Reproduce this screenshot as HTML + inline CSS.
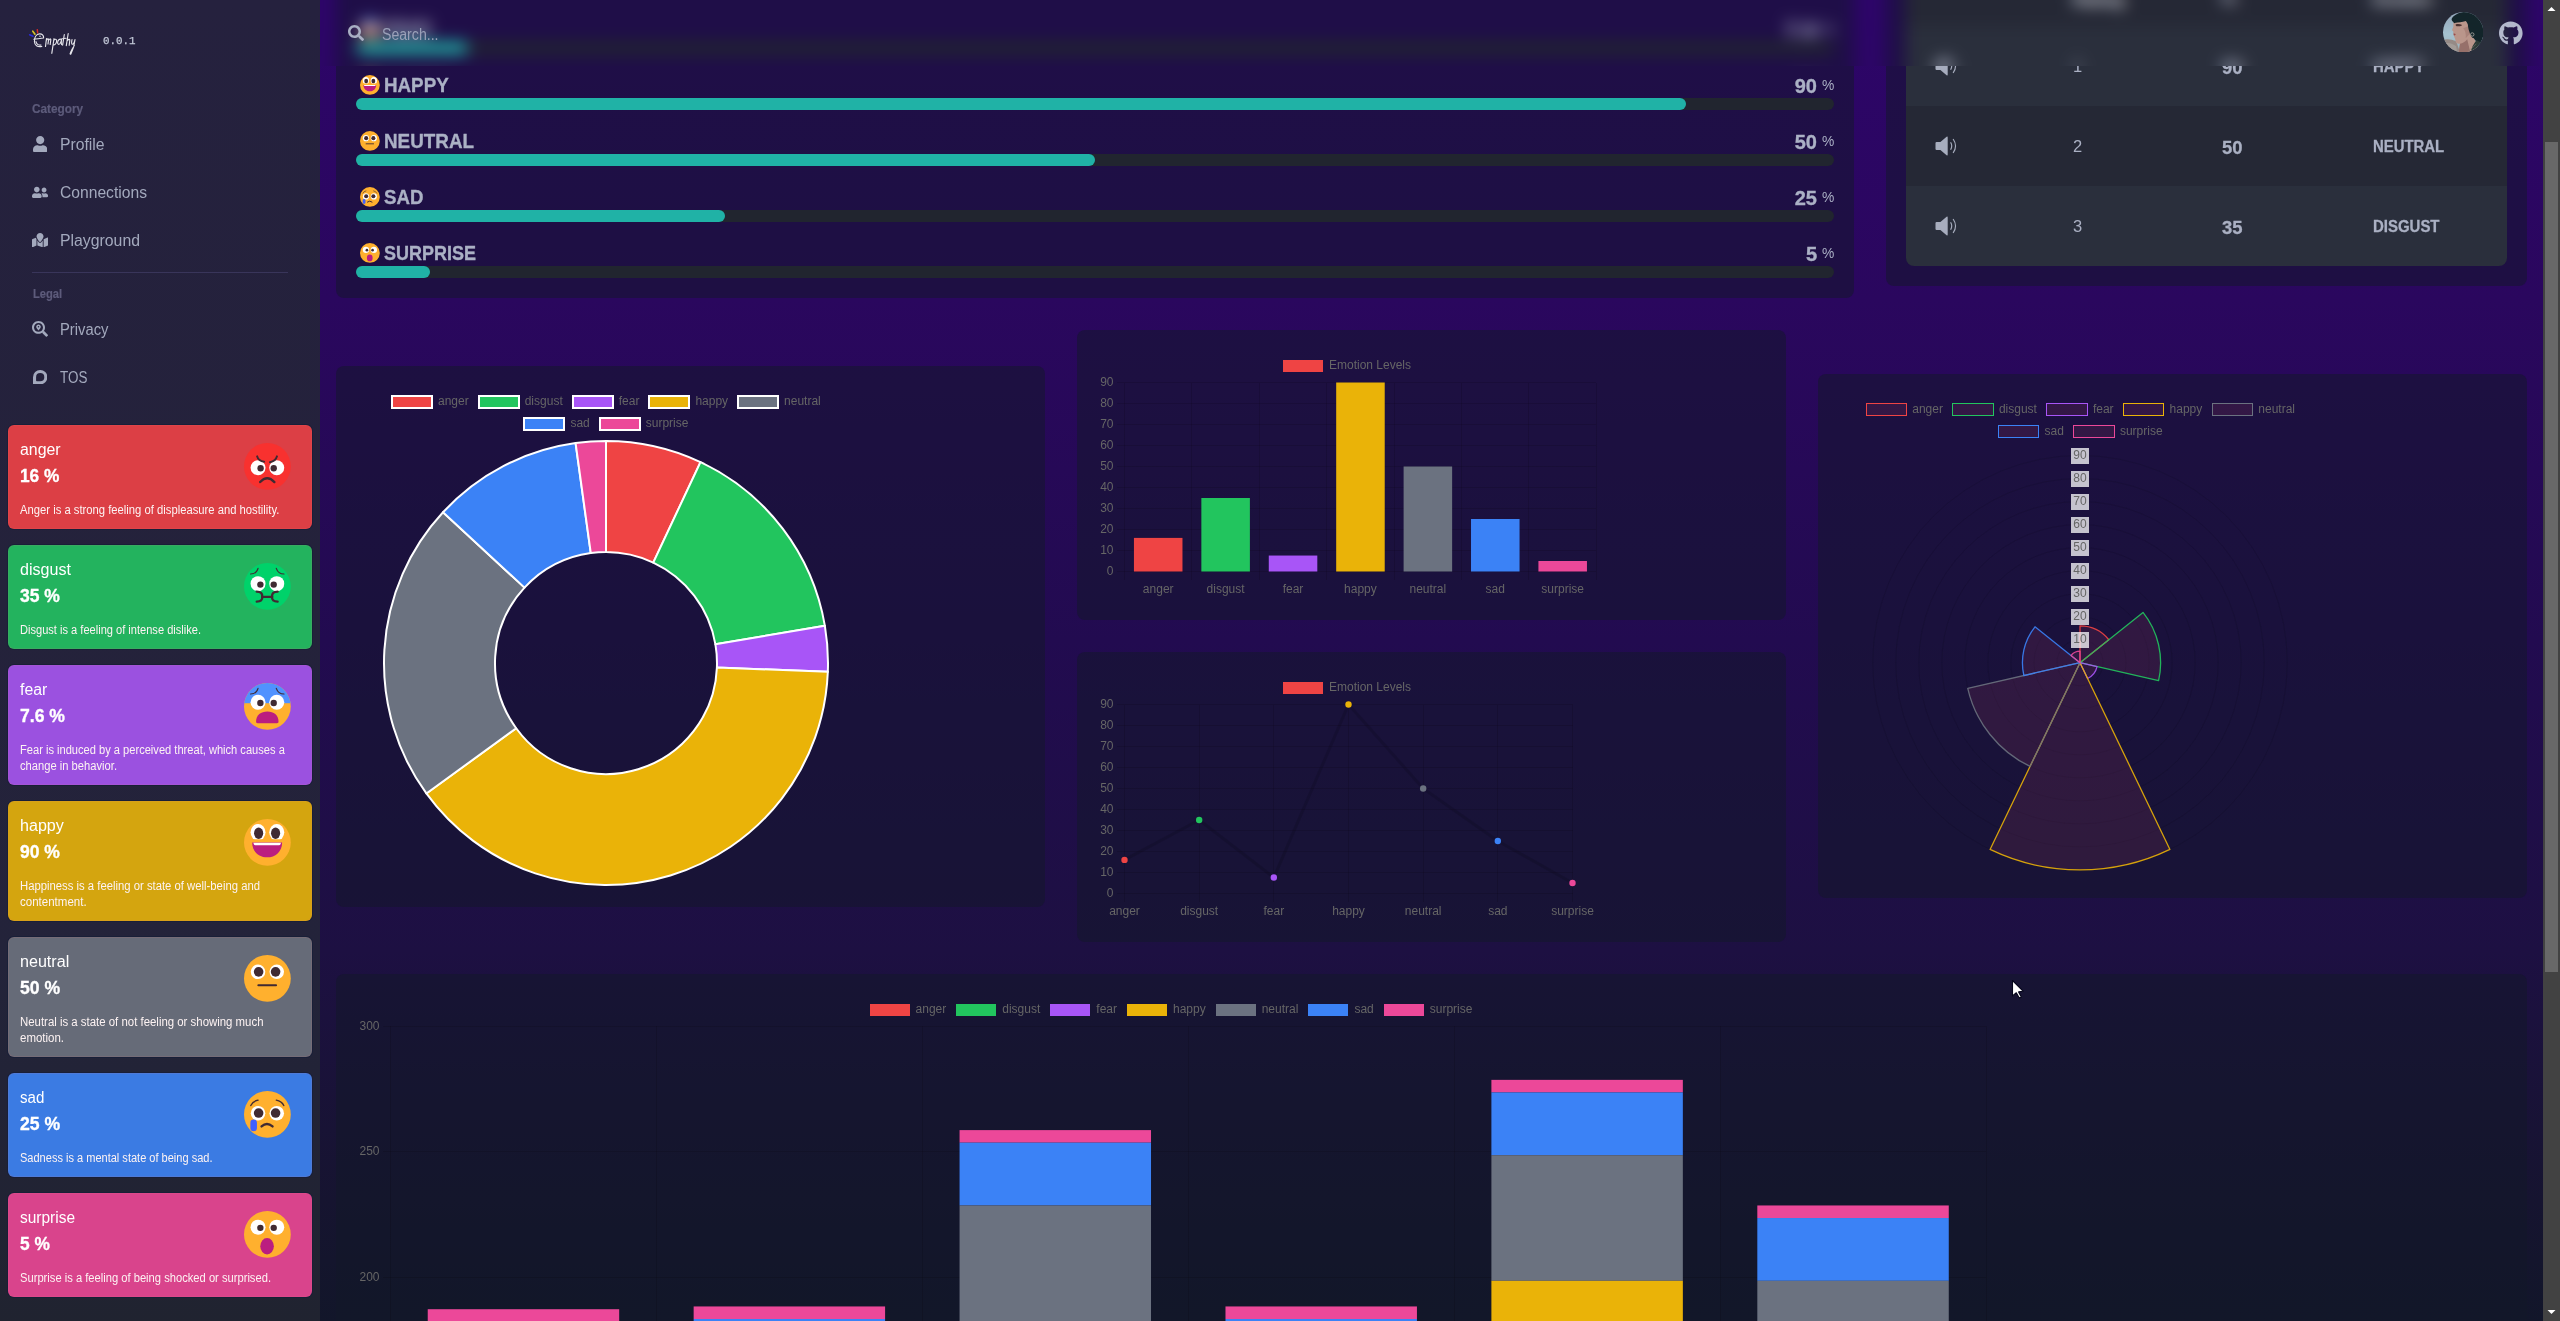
<!DOCTYPE html>
<html lang="en"><head><meta charset="utf-8"><title>Empathy</title>
<style>
html,body{margin:0;padding:0;background:#16152f;}
body{width:2560px;height:1321px;overflow:hidden;font-family:"Liberation Sans",sans-serif;}
#page{position:relative;width:2560px;height:1321px;overflow:hidden;
background:linear-gradient(180deg,#2d0569 0px,#2a075e 300px,#220b50 640px,#1d1042 950px,#161430 1200px,#12162a 1321px);}
#main{position:absolute;left:0;top:0;width:2560px;height:1321px;will-change:transform;}
#header{position:absolute;left:320px;top:0;width:2223px;height:66px;overflow:hidden;}
#hb{position:absolute;left:-400px;top:-80px;width:2800px;height:260px;filter:blur(8px);background:linear-gradient(180deg,#2d0569 0px,#2d0569 80px,#2b0662 260px);}
#hb2{position:absolute;left:80px;top:80px;width:2560px;height:180px;}
#hd{position:absolute;left:0;top:0;width:2560px;height:66px;will-change:transform;}
#sidebar{position:absolute;left:0;top:0;width:320px;height:1321px;background:linear-gradient(180deg,#25213e 0px,#24223b 600px,#23233a 960px,#202330 1321px);}
#sb{position:absolute;left:2543px;top:0;width:17px;height:1321px;background:#424242;}
#sb .th{position:absolute;left:2px;top:142px;width:13px;height:830px;background:#686868;}
</style></head>
<body>
<div id="page">
<div id="main">
<div style="position:absolute;left:336.0px;top:-300.0px;width:1517.5px;height:597.5px;border-radius:8px;background:rgba(17,24,39,0.5)"></div>
<svg style="position:absolute;left:358.80px;top:17.90px" width="21.80" height="21.80" viewBox="-1.1010 -1.1010 2.2020 2.2020"><defs><clipPath id="fc1"><circle r="1"/></clipPath></defs><circle r="1" fill="#ffb02e"/><rect x="-1" y="-1" width="2" height="0.864" fill="#5092ff" clip-path="url(#fc1)"/><circle cx="-0.400" cy="-0.175" r="0.320" fill="#fff"/><circle cx="0.400" cy="-0.175" r="0.320" fill="#fff"/><circle cx="-0.300" cy="-0.146" r="0.136" fill="#402a32"/><circle cx="0.270" cy="-0.146" r="0.136" fill="#402a32"/><path d="M-0.72 -0.53Q-0.47 -0.53 -0.40 -0.77" fill="none" stroke="#402a32" stroke-width="0.050" stroke-linecap="round" stroke-linejoin="round"/><path d="M0.71 -0.53Q0.46 -0.53 0.38 -0.77" fill="none" stroke="#402a32" stroke-width="0.050" stroke-linecap="round" stroke-linejoin="round"/><path d="M-0.485 0.66C-0.485 0.36 -0.28 0.214 0 0.214C0.27 0.214 0.476 0.36 0.476 0.66C0.476 0.70 0.45 0.718 0.41 0.718L-0.42 0.718C-0.46 0.718 -0.485 0.70 -0.485 0.66Z" fill="#bb1d80"/></svg>
<div style="position:absolute;left:384.30px;top:17.00px;font-size:19.50px;line-height:24px;color:#abb1c5;white-space:pre;font-family:'Liberation Sans',sans-serif;font-weight:700;-webkit-text-stroke:0.35px #abb1c5;transform:scaleX(0.8760);transform-origin:0 0;">FEAR</div>
<div style="position:absolute;left:1821.50px;top:19.00px;font-size:15.30px;line-height:19px;color:#abb1c5;white-space:pre;font-family:'Liberation Sans',sans-serif;transform:scaleX(0.9041);transform-origin:0 0;">%</div>
<div style="position:absolute;left:1785.00px;top:18.00px;font-size:20.00px;line-height:24px;color:#abb1c5;white-space:pre;font-family:'Liberation Sans',sans-serif;font-weight:700;-webkit-text-stroke:0.35px #abb1c5;transform:scaleX(1.1510);transform-origin:0 0;">7.6</div>
<div style="position:absolute;left:356px;top:42.0px;width:1477.8px;height:12px;border-radius:6px;background:#21252f"></div>
<div style="position:absolute;left:356px;top:42.0px;width:112.3px;height:12px;border-radius:6px;background:#20b2a6"></div>
<svg style="position:absolute;left:358.80px;top:73.90px" width="21.80" height="21.80" viewBox="-1.1010 -1.1010 2.2020 2.2020"><defs><clipPath id="hc2"><rect x="-1" y="-1" width="2" height="0.864"/></clipPath></defs><circle r="1" fill="#ffb02e"/><g clip-path="url(#hc2)"><ellipse cx="-0.40" cy="-0.43" rx="0.32" ry="0.36" fill="#fff"/><ellipse cx="0.40" cy="-0.43" rx="0.32" ry="0.36" fill="#fff"/><ellipse cx="-0.375" cy="-0.390" rx="0.195" ry="0.243" fill="#402a32"/><ellipse cx="0.350" cy="-0.390" rx="0.195" ry="0.243" fill="#402a32"/></g><path d="M-0.65 0.0L0.63 0.0C0.63 0.40 0.33 0.64 -0.01 0.64C-0.35 0.64 -0.65 0.40 -0.65 0.0Z" fill="#bb1d80"/><path d="M-0.60 0.01L0.58 0.01L0.555 0.09Q0.54 0.117 0.50 0.117L-0.52 0.117Q-0.56 0.117 -0.575 0.09Z" fill="#fff"/></svg>
<div style="position:absolute;left:384.30px;top:73.00px;font-size:19.50px;line-height:24px;color:#abb1c5;white-space:pre;font-family:'Liberation Sans',sans-serif;font-weight:700;-webkit-text-stroke:0.35px #abb1c5;transform:scaleX(0.9630);transform-origin:0 0;">HAPPY</div>
<div style="position:absolute;left:1821.50px;top:75.00px;font-size:15.30px;line-height:19px;color:#abb1c5;white-space:pre;font-family:'Liberation Sans',sans-serif;transform:scaleX(0.9041);transform-origin:0 0;">%</div>
<div style="position:absolute;left:1794.70px;top:74.00px;font-size:20.00px;line-height:24px;color:#abb1c5;white-space:pre;font-family:'Liberation Sans',sans-serif;font-weight:700;-webkit-text-stroke:0.35px #abb1c5;">90</div>
<div style="position:absolute;left:356px;top:98.0px;width:1477.8px;height:12px;border-radius:6px;background:#21252f"></div>
<div style="position:absolute;left:356px;top:98.0px;width:1330.0px;height:12px;border-radius:6px;background:#20b2a6"></div>
<svg style="position:absolute;left:358.80px;top:129.90px" width="21.80" height="21.80" viewBox="-1.1010 -1.1010 2.2020 2.2020"><circle r="1" fill="#ffb02e"/><circle cx="-0.400" cy="-0.280" r="0.310" fill="#fff"/><circle cx="0.400" cy="-0.280" r="0.310" fill="#fff"/><circle cx="-0.375" cy="-0.280" r="0.205" fill="#402a32"/><circle cx="0.350" cy="-0.280" r="0.205" fill="#402a32"/><path d="M-0.385 0.295L0.37 0.295" fill="none" stroke="#402a32" stroke-width="0.090" stroke-linecap="round" stroke-linejoin="round"/></svg>
<div style="position:absolute;left:384.30px;top:129.00px;font-size:19.50px;line-height:24px;color:#abb1c5;white-space:pre;font-family:'Liberation Sans',sans-serif;font-weight:700;-webkit-text-stroke:0.35px #abb1c5;transform:scaleX(0.9661);transform-origin:0 0;">NEUTRAL</div>
<div style="position:absolute;left:1821.50px;top:131.00px;font-size:15.30px;line-height:19px;color:#abb1c5;white-space:pre;font-family:'Liberation Sans',sans-serif;transform:scaleX(0.9041);transform-origin:0 0;">%</div>
<div style="position:absolute;left:1794.70px;top:130.00px;font-size:20.00px;line-height:24px;color:#abb1c5;white-space:pre;font-family:'Liberation Sans',sans-serif;font-weight:700;-webkit-text-stroke:0.35px #abb1c5;">50</div>
<div style="position:absolute;left:356px;top:154.0px;width:1477.8px;height:12px;border-radius:6px;background:#21252f"></div>
<div style="position:absolute;left:356px;top:154.0px;width:738.9px;height:12px;border-radius:6px;background:#20b2a6"></div>
<svg style="position:absolute;left:358.80px;top:185.90px" width="21.80" height="21.80" viewBox="-1.1010 -1.1010 2.2020 2.2020"><circle r="1" fill="#ffb02e"/><circle cx="-0.400" cy="-0.049" r="0.310" fill="#fff"/><circle cx="0.400" cy="-0.049" r="0.310" fill="#fff"/><circle cx="-0.375" cy="-0.058" r="0.205" fill="#402a32"/><circle cx="0.350" cy="-0.058" r="0.205" fill="#402a32"/><path d="M-0.71 -0.38Q-0.62 -0.57 -0.40 -0.61" fill="none" stroke="#402a32" stroke-width="0.060" stroke-linecap="round" stroke-linejoin="round"/><path d="M0.70 -0.38Q0.61 -0.57 0.38 -0.61" fill="none" stroke="#402a32" stroke-width="0.060" stroke-linecap="round" stroke-linejoin="round"/><rect x="-0.728" y="0.223" width="0.281" height="0.495" rx="0.14" fill="#3f5fff"/><path d="M-0.25 0.515Q-0.02 0.31 0.22 0.515" fill="none" stroke="#402a32" stroke-width="0.100" stroke-linecap="round" stroke-linejoin="round"/></svg>
<div style="position:absolute;left:384.30px;top:185.00px;font-size:19.50px;line-height:24px;color:#abb1c5;white-space:pre;font-family:'Liberation Sans',sans-serif;font-weight:700;-webkit-text-stroke:0.35px #abb1c5;transform:scaleX(0.9570);transform-origin:0 0;">SAD</div>
<div style="position:absolute;left:1821.50px;top:187.00px;font-size:15.30px;line-height:19px;color:#abb1c5;white-space:pre;font-family:'Liberation Sans',sans-serif;transform:scaleX(0.9041);transform-origin:0 0;">%</div>
<div style="position:absolute;left:1794.70px;top:186.00px;font-size:20.00px;line-height:24px;color:#abb1c5;white-space:pre;font-family:'Liberation Sans',sans-serif;font-weight:700;-webkit-text-stroke:0.35px #abb1c5;">25</div>
<div style="position:absolute;left:356px;top:210.0px;width:1477.8px;height:12px;border-radius:6px;background:#21252f"></div>
<div style="position:absolute;left:356px;top:210.0px;width:369.4px;height:12px;border-radius:6px;background:#20b2a6"></div>
<svg style="position:absolute;left:358.80px;top:241.90px" width="21.80" height="21.80" viewBox="-1.1010 -1.1010 2.2020 2.2020"><circle r="1" fill="#ffb02e"/><circle cx="-0.400" cy="-0.310" r="0.320" fill="#fff"/><circle cx="0.400" cy="-0.310" r="0.320" fill="#fff"/><circle cx="-0.300" cy="-0.280" r="0.136" fill="#402a32"/><circle cx="0.270" cy="-0.280" r="0.136" fill="#402a32"/><ellipse cx="-0.014" cy="0.505" rx="0.29" ry="0.35" fill="#bb1d80"/></svg>
<div style="position:absolute;left:384.30px;top:241.00px;font-size:19.50px;line-height:24px;color:#abb1c5;white-space:pre;font-family:'Liberation Sans',sans-serif;font-weight:700;-webkit-text-stroke:0.35px #abb1c5;transform:scaleX(0.9219);transform-origin:0 0;">SURPRISE</div>
<div style="position:absolute;left:1821.50px;top:243.00px;font-size:15.30px;line-height:19px;color:#abb1c5;white-space:pre;font-family:'Liberation Sans',sans-serif;transform:scaleX(0.9041);transform-origin:0 0;">%</div>
<div style="position:absolute;left:1805.80px;top:242.00px;font-size:20.00px;line-height:24px;color:#abb1c5;white-space:pre;font-family:'Liberation Sans',sans-serif;font-weight:700;-webkit-text-stroke:0.35px #abb1c5;transform:scaleX(1.0069);transform-origin:0 0;">5</div>
<div style="position:absolute;left:356px;top:266.0px;width:1477.8px;height:12px;border-radius:6px;background:#21252f"></div>
<div style="position:absolute;left:356px;top:266.0px;width:73.9px;height:12px;border-radius:6px;background:#20b2a6"></div>
<div style="position:absolute;left:1886.0px;top:-300.0px;width:641.0px;height:585.5px;border-radius:8px;background:rgba(17,24,39,0.5)"></div>
<div style="position:absolute;left:1906px;top:-54px;width:601px;height:320px;border-radius:8px;overflow:hidden;background:#2a2f3c"><div style="position:absolute;left:0;top:160px;width:601px;height:80px;background:#252835"></div><div style="position:absolute;left:0;top:0;width:601px;height:80px;background:#252835"></div></div>
<div style="position:absolute;left:2072.50px;top:-10.00px;font-size:16.00px;line-height:19px;color:#eceef5;white-space:pre;font-family:'Liberation Sans',sans-serif;font-weight:700;transform:scaleX(1.0246);transform-origin:0 0;">Rating</div>
<div style="position:absolute;left:2220.50px;top:-11.00px;font-size:16.00px;line-height:19px;color:#d5d9e6;white-space:pre;font-family:'Liberation Sans',sans-serif;font-weight:700;transform:scaleX(1.0544);transform-origin:0 0;">%</div>
<div style="position:absolute;left:2373.00px;top:-10.00px;font-size:16.00px;line-height:19px;color:#e4e7f0;white-space:pre;font-family:'Liberation Sans',sans-serif;font-weight:700;transform:scaleX(0.9220);transform-origin:0 0;">Emotion</div>
<svg style="position:absolute;left:1934.90px;top:55.00px;overflow:visible" width="24" height="22" viewBox="0 0 24 22"><path d="M1.6 6.9H5.4L11.6 1.8Q12.7 1.1 12.7 2.4V19.6Q12.7 20.9 11.6 20.2L5.4 15.1H1.6Q0.5 15.1 0.5 14V8Q0.5 6.9 1.6 6.9Z" fill="#a7adbe"/><path d="M15.6 7.3Q17.9 11 15.6 14.7" fill="none" stroke="#a7adbe" stroke-width="1.15" stroke-linecap="butt"/><path d="M18.1 4.0Q23.0 11 18.1 18.0" fill="none" stroke="#a7adbe" stroke-width="1.15" stroke-linecap="butt"/></svg>
<div style="position:absolute;left:2072.90px;top:56.00px;font-size:17.00px;line-height:21px;color:#aab0c3;white-space:pre;font-family:'Liberation Sans',sans-serif;transform:scaleX(0.9731);transform-origin:0 0;">1</div>
<div style="position:absolute;left:2222.45px;top:57.00px;font-size:18.00px;line-height:22px;color:#aab0c3;white-space:pre;font-family:'Liberation Sans',sans-serif;font-weight:700;-webkit-text-stroke:0.30px #aab0c3;transform:scaleX(1.0239);transform-origin:0 0;">90</div>
<div style="position:absolute;left:2373.30px;top:57.00px;font-size:16.00px;line-height:19px;color:#aab0c3;white-space:pre;font-family:'Liberation Sans',sans-serif;font-weight:700;-webkit-text-stroke:0.30px #aab0c3;transform:scaleX(0.9342);transform-origin:0 0;">HAPPY</div>
<svg style="position:absolute;left:1934.90px;top:135.00px;overflow:visible" width="24" height="22" viewBox="0 0 24 22"><path d="M1.6 6.9H5.4L11.6 1.8Q12.7 1.1 12.7 2.4V19.6Q12.7 20.9 11.6 20.2L5.4 15.1H1.6Q0.5 15.1 0.5 14V8Q0.5 6.9 1.6 6.9Z" fill="#a7adbe"/><path d="M15.6 7.3Q17.9 11 15.6 14.7" fill="none" stroke="#a7adbe" stroke-width="1.15" stroke-linecap="butt"/><path d="M18.1 4.0Q23.0 11 18.1 18.0" fill="none" stroke="#a7adbe" stroke-width="1.15" stroke-linecap="butt"/></svg>
<div style="position:absolute;left:2072.90px;top:136.00px;font-size:17.00px;line-height:21px;color:#aab0c3;white-space:pre;font-family:'Liberation Sans',sans-serif;transform:scaleX(0.9731);transform-origin:0 0;">2</div>
<div style="position:absolute;left:2222.45px;top:137.00px;font-size:18.00px;line-height:22px;color:#aab0c3;white-space:pre;font-family:'Liberation Sans',sans-serif;font-weight:700;-webkit-text-stroke:0.30px #aab0c3;transform:scaleX(1.0239);transform-origin:0 0;">50</div>
<div style="position:absolute;left:2373.30px;top:137.00px;font-size:16.00px;line-height:19px;color:#aab0c3;white-space:pre;font-family:'Liberation Sans',sans-serif;font-weight:700;-webkit-text-stroke:0.30px #aab0c3;transform:scaleX(0.9315);transform-origin:0 0;">NEUTRAL</div>
<svg style="position:absolute;left:1934.90px;top:215.00px;overflow:visible" width="24" height="22" viewBox="0 0 24 22"><path d="M1.6 6.9H5.4L11.6 1.8Q12.7 1.1 12.7 2.4V19.6Q12.7 20.9 11.6 20.2L5.4 15.1H1.6Q0.5 15.1 0.5 14V8Q0.5 6.9 1.6 6.9Z" fill="#a7adbe"/><path d="M15.6 7.3Q17.9 11 15.6 14.7" fill="none" stroke="#a7adbe" stroke-width="1.15" stroke-linecap="butt"/><path d="M18.1 4.0Q23.0 11 18.1 18.0" fill="none" stroke="#a7adbe" stroke-width="1.15" stroke-linecap="butt"/></svg>
<div style="position:absolute;left:2072.90px;top:216.00px;font-size:17.00px;line-height:21px;color:#aab0c3;white-space:pre;font-family:'Liberation Sans',sans-serif;transform:scaleX(0.9731);transform-origin:0 0;">3</div>
<div style="position:absolute;left:2222.45px;top:217.00px;font-size:18.00px;line-height:22px;color:#aab0c3;white-space:pre;font-family:'Liberation Sans',sans-serif;font-weight:700;-webkit-text-stroke:0.30px #aab0c3;transform:scaleX(1.0239);transform-origin:0 0;">35</div>
<div style="position:absolute;left:2373.30px;top:217.00px;font-size:16.00px;line-height:19px;color:#aab0c3;white-space:pre;font-family:'Liberation Sans',sans-serif;font-weight:700;-webkit-text-stroke:0.30px #aab0c3;transform:scaleX(0.9351);transform-origin:0 0;">DISGUST</div>
<div style="position:absolute;left:336.0px;top:366.0px;width:709.0px;height:541.0px;border-radius:8px;background:rgba(17,24,39,0.5)"></div>
<div style="position:absolute;left:391.01px;top:395.00px;width:42.00px;height:14.00px;background:#ef4444;border:2.00px solid #fff;box-sizing:border-box"></div>
<div style="position:absolute;left:438.01px;top:393.00px;font-size:12.00px;line-height:16px;color:#666666;white-space:pre;font-family:'Liberation Sans',sans-serif;">anger</div>
<div style="position:absolute;left:477.70px;top:395.00px;width:42.00px;height:14.00px;background:#22c55e;border:2.00px solid #fff;box-sizing:border-box"></div>
<div style="position:absolute;left:524.70px;top:393.00px;font-size:12.00px;line-height:16px;color:#666666;white-space:pre;font-family:'Liberation Sans',sans-serif;">disgust</div>
<div style="position:absolute;left:571.72px;top:395.00px;width:42.00px;height:14.00px;background:#a855f7;border:2.00px solid #fff;box-sizing:border-box"></div>
<div style="position:absolute;left:618.72px;top:393.00px;font-size:12.00px;line-height:16px;color:#666666;white-space:pre;font-family:'Liberation Sans',sans-serif;">fear</div>
<div style="position:absolute;left:648.40px;top:395.00px;width:42.00px;height:14.00px;background:#eab308;border:2.00px solid #fff;box-sizing:border-box"></div>
<div style="position:absolute;left:695.40px;top:393.00px;font-size:12.00px;line-height:16px;color:#666666;white-space:pre;font-family:'Liberation Sans',sans-serif;">happy</div>
<div style="position:absolute;left:737.10px;top:395.00px;width:42.00px;height:14.00px;background:#6b7280;border:2.00px solid #fff;box-sizing:border-box"></div>
<div style="position:absolute;left:784.10px;top:393.00px;font-size:12.00px;line-height:16px;color:#666666;white-space:pre;font-family:'Liberation Sans',sans-serif;">neutral</div>
<div style="position:absolute;left:523.39px;top:417.00px;width:42.00px;height:14.00px;background:#3b82f6;border:2.00px solid #fff;box-sizing:border-box"></div>
<div style="position:absolute;left:570.39px;top:415.00px;font-size:12.00px;line-height:16px;color:#666666;white-space:pre;font-family:'Liberation Sans',sans-serif;">sad</div>
<div style="position:absolute;left:598.73px;top:417.00px;width:42.00px;height:14.00px;background:#ec4899;border:2.00px solid #fff;box-sizing:border-box"></div>
<div style="position:absolute;left:645.73px;top:415.00px;font-size:12.00px;line-height:16px;color:#666666;white-space:pre;font-family:'Liberation Sans',sans-serif;">surprise</div>
<svg style="position:absolute;left:0;top:0" width="2560" height="1321"><path d="M606.00 441.00A222.00 222.00 0 0 1 700.51 462.12L653.26 562.56A111.00 111.00 0 0 0 606.00 552.00Z" fill="#ef4444" stroke="#fff" stroke-width="2" stroke-linejoin="round"/><path d="M700.51 462.12A222.00 222.00 0 0 1 824.84 625.65L715.42 644.33A111.00 111.00 0 0 0 653.26 562.56Z" fill="#22c55e" stroke="#fff" stroke-width="2" stroke-linejoin="round"/><path d="M824.84 625.65A222.00 222.00 0 0 1 827.82 671.85L716.91 667.42A111.00 111.00 0 0 0 715.42 644.33Z" fill="#a855f7" stroke="#fff" stroke-width="2" stroke-linejoin="round"/><path d="M827.82 671.85A222.00 222.00 0 0 1 426.36 793.44L516.18 728.22A111.00 111.00 0 0 0 716.91 667.42Z" fill="#eab308" stroke="#fff" stroke-width="2" stroke-linejoin="round"/><path d="M426.36 793.44A222.00 222.00 0 0 1 443.00 512.29L524.50 587.64A111.00 111.00 0 0 0 516.18 728.22Z" fill="#6b7280" stroke="#fff" stroke-width="2" stroke-linejoin="round"/><path d="M443.00 512.29A222.00 222.00 0 0 1 575.59 443.09L590.79 553.05A111.00 111.00 0 0 0 524.50 587.64Z" fill="#3b82f6" stroke="#fff" stroke-width="2" stroke-linejoin="round"/><path d="M575.59 443.09A222.00 222.00 0 0 1 606.00 441.00L606.00 552.00A111.00 111.00 0 0 0 590.79 553.05Z" fill="#ec4899" stroke="#fff" stroke-width="2" stroke-linejoin="round"/></svg>
<div style="position:absolute;left:1077.0px;top:330.0px;width:709.0px;height:290.0px;border-radius:8px;background:rgba(17,24,39,0.5)"></div>
<div style="position:absolute;left:1282.98px;top:360.00px;width:40px;height:12px;background:#ef4444"></div>
<div style="position:absolute;left:1328.98px;top:357.00px;font-size:12.00px;line-height:16px;color:#666666;white-space:pre;font-family:'Liberation Sans',sans-serif;">Emotion Levels</div>
<svg style="position:absolute;left:0;top:0" width="2560" height="1321"><g shape-rendering="crispEdges"><line x1="1124.50" y1="382.50" x2="1124.50" y2="579.50" stroke="rgba(0,0,0,0.11)" stroke-width="1"/><line x1="1191.91" y1="382.50" x2="1191.91" y2="579.50" stroke="rgba(0,0,0,0.11)" stroke-width="1"/><line x1="1259.33" y1="382.50" x2="1259.33" y2="579.50" stroke="rgba(0,0,0,0.11)" stroke-width="1"/><line x1="1326.74" y1="382.50" x2="1326.74" y2="579.50" stroke="rgba(0,0,0,0.11)" stroke-width="1"/><line x1="1394.16" y1="382.50" x2="1394.16" y2="579.50" stroke="rgba(0,0,0,0.11)" stroke-width="1"/><line x1="1461.57" y1="382.50" x2="1461.57" y2="579.50" stroke="rgba(0,0,0,0.11)" stroke-width="1"/><line x1="1528.99" y1="382.50" x2="1528.99" y2="579.50" stroke="rgba(0,0,0,0.11)" stroke-width="1"/><line x1="1596.40" y1="382.50" x2="1596.40" y2="579.50" stroke="rgba(0,0,0,0.11)" stroke-width="1"/><line x1="1116.50" y1="571.50" x2="1596.40" y2="571.50" stroke="rgba(0,0,0,0.11)" stroke-width="1"/><line x1="1116.50" y1="550.50" x2="1596.40" y2="550.50" stroke="rgba(0,0,0,0.11)" stroke-width="1"/><line x1="1116.50" y1="529.50" x2="1596.40" y2="529.50" stroke="rgba(0,0,0,0.11)" stroke-width="1"/><line x1="1116.50" y1="508.50" x2="1596.40" y2="508.50" stroke="rgba(0,0,0,0.11)" stroke-width="1"/><line x1="1116.50" y1="487.50" x2="1596.40" y2="487.50" stroke="rgba(0,0,0,0.11)" stroke-width="1"/><line x1="1116.50" y1="466.50" x2="1596.40" y2="466.50" stroke="rgba(0,0,0,0.11)" stroke-width="1"/><line x1="1116.50" y1="445.50" x2="1596.40" y2="445.50" stroke="rgba(0,0,0,0.11)" stroke-width="1"/><line x1="1116.50" y1="424.50" x2="1596.40" y2="424.50" stroke="rgba(0,0,0,0.11)" stroke-width="1"/><line x1="1116.50" y1="403.50" x2="1596.40" y2="403.50" stroke="rgba(0,0,0,0.11)" stroke-width="1"/><line x1="1116.50" y1="382.50" x2="1596.40" y2="382.50" stroke="rgba(0,0,0,0.11)" stroke-width="1"/></g><rect x="1133.94" y="537.90" width="48.54" height="33.60" fill="#ef4444"/><rect x="1201.35" y="498.00" width="48.54" height="73.50" fill="#22c55e"/><rect x="1268.77" y="555.54" width="48.54" height="15.96" fill="#a855f7"/><rect x="1336.18" y="382.50" width="48.54" height="189.00" fill="#eab308"/><rect x="1403.60" y="466.50" width="48.54" height="105.00" fill="#6b7280"/><rect x="1471.01" y="519.00" width="48.54" height="52.50" fill="#3b82f6"/><rect x="1538.42" y="561.00" width="48.54" height="10.50" fill="#ec4899"/></svg><div style="position:absolute;left:1106.83px;top:563.00px;font-size:12.00px;line-height:16px;color:#666666;white-space:pre;font-family:'Liberation Sans',sans-serif;">0</div>
<div style="position:absolute;left:1100.15px;top:542.00px;font-size:12.00px;line-height:16px;color:#666666;white-space:pre;font-family:'Liberation Sans',sans-serif;">10</div>
<div style="position:absolute;left:1100.15px;top:521.00px;font-size:12.00px;line-height:16px;color:#666666;white-space:pre;font-family:'Liberation Sans',sans-serif;">20</div>
<div style="position:absolute;left:1100.15px;top:500.00px;font-size:12.00px;line-height:16px;color:#666666;white-space:pre;font-family:'Liberation Sans',sans-serif;">30</div>
<div style="position:absolute;left:1100.15px;top:479.00px;font-size:12.00px;line-height:16px;color:#666666;white-space:pre;font-family:'Liberation Sans',sans-serif;">40</div>
<div style="position:absolute;left:1100.15px;top:458.00px;font-size:12.00px;line-height:16px;color:#666666;white-space:pre;font-family:'Liberation Sans',sans-serif;">50</div>
<div style="position:absolute;left:1100.15px;top:437.00px;font-size:12.00px;line-height:16px;color:#666666;white-space:pre;font-family:'Liberation Sans',sans-serif;">60</div>
<div style="position:absolute;left:1100.15px;top:416.00px;font-size:12.00px;line-height:16px;color:#666666;white-space:pre;font-family:'Liberation Sans',sans-serif;">70</div>
<div style="position:absolute;left:1100.15px;top:395.00px;font-size:12.00px;line-height:16px;color:#666666;white-space:pre;font-family:'Liberation Sans',sans-serif;">80</div>
<div style="position:absolute;left:1100.15px;top:374.00px;font-size:12.00px;line-height:16px;color:#666666;white-space:pre;font-family:'Liberation Sans',sans-serif;">90</div>
<div style="position:absolute;left:1142.86px;top:581.00px;font-size:12.00px;line-height:16px;color:#666666;white-space:pre;font-family:'Liberation Sans',sans-serif;">anger</div>
<div style="position:absolute;left:1206.61px;top:581.00px;font-size:12.00px;line-height:16px;color:#666666;white-space:pre;font-family:'Liberation Sans',sans-serif;">disgust</div>
<div style="position:absolute;left:1282.70px;top:581.00px;font-size:12.00px;line-height:16px;color:#666666;white-space:pre;font-family:'Liberation Sans',sans-serif;">fear</div>
<div style="position:absolute;left:1344.10px;top:581.00px;font-size:12.00px;line-height:16px;color:#666666;white-space:pre;font-family:'Liberation Sans',sans-serif;">happy</div>
<div style="position:absolute;left:1409.52px;top:581.00px;font-size:12.00px;line-height:16px;color:#666666;white-space:pre;font-family:'Liberation Sans',sans-serif;">neutral</div>
<div style="position:absolute;left:1485.60px;top:581.00px;font-size:12.00px;line-height:16px;color:#666666;white-space:pre;font-family:'Liberation Sans',sans-serif;">sad</div>
<div style="position:absolute;left:1541.35px;top:581.00px;font-size:12.00px;line-height:16px;color:#666666;white-space:pre;font-family:'Liberation Sans',sans-serif;">surprise</div>
<div style="position:absolute;left:1077.0px;top:652.0px;width:709.0px;height:289.5px;border-radius:8px;background:rgba(17,24,39,0.5)"></div>
<div style="position:absolute;left:1282.98px;top:682.00px;width:40px;height:12px;background:#ef4444"></div>
<div style="position:absolute;left:1328.98px;top:679.00px;font-size:12.00px;line-height:16px;color:#666666;white-space:pre;font-family:'Liberation Sans',sans-serif;">Emotion Levels</div>
<svg style="position:absolute;left:0;top:0" width="2560" height="1321"><g shape-rendering="crispEdges"><line x1="1124.50" y1="704.50" x2="1124.50" y2="901.50" stroke="rgba(0,0,0,0.11)" stroke-width="1"/><line x1="1199.17" y1="704.50" x2="1199.17" y2="901.50" stroke="rgba(0,0,0,0.11)" stroke-width="1"/><line x1="1273.83" y1="704.50" x2="1273.83" y2="901.50" stroke="rgba(0,0,0,0.11)" stroke-width="1"/><line x1="1348.50" y1="704.50" x2="1348.50" y2="901.50" stroke="rgba(0,0,0,0.11)" stroke-width="1"/><line x1="1423.17" y1="704.50" x2="1423.17" y2="901.50" stroke="rgba(0,0,0,0.11)" stroke-width="1"/><line x1="1497.83" y1="704.50" x2="1497.83" y2="901.50" stroke="rgba(0,0,0,0.11)" stroke-width="1"/><line x1="1572.50" y1="704.50" x2="1572.50" y2="901.50" stroke="rgba(0,0,0,0.11)" stroke-width="1"/><line x1="1116.50" y1="893.50" x2="1572.50" y2="893.50" stroke="rgba(0,0,0,0.11)" stroke-width="1"/><line x1="1116.50" y1="872.50" x2="1572.50" y2="872.50" stroke="rgba(0,0,0,0.11)" stroke-width="1"/><line x1="1116.50" y1="851.50" x2="1572.50" y2="851.50" stroke="rgba(0,0,0,0.11)" stroke-width="1"/><line x1="1116.50" y1="830.50" x2="1572.50" y2="830.50" stroke="rgba(0,0,0,0.11)" stroke-width="1"/><line x1="1116.50" y1="809.50" x2="1572.50" y2="809.50" stroke="rgba(0,0,0,0.11)" stroke-width="1"/><line x1="1116.50" y1="788.50" x2="1572.50" y2="788.50" stroke="rgba(0,0,0,0.11)" stroke-width="1"/><line x1="1116.50" y1="767.50" x2="1572.50" y2="767.50" stroke="rgba(0,0,0,0.11)" stroke-width="1"/><line x1="1116.50" y1="746.50" x2="1572.50" y2="746.50" stroke="rgba(0,0,0,0.11)" stroke-width="1"/><line x1="1116.50" y1="725.50" x2="1572.50" y2="725.50" stroke="rgba(0,0,0,0.11)" stroke-width="1"/><line x1="1116.50" y1="704.50" x2="1572.50" y2="704.50" stroke="rgba(0,0,0,0.11)" stroke-width="1"/></g><polyline points="1124.50,859.90 1199.17,820.00 1273.83,877.54 1348.50,704.50 1423.17,788.50 1497.83,841.00 1572.50,883.00" fill="none" stroke="rgba(0,0,0,0.12)" stroke-width="3" stroke-linejoin="round"/><circle cx="1124.50" cy="859.90" r="3.2" fill="#ef4444"/><circle cx="1199.17" cy="820.00" r="3.2" fill="#22c55e"/><circle cx="1273.83" cy="877.54" r="3.2" fill="#a855f7"/><circle cx="1348.50" cy="704.50" r="3.2" fill="#eab308"/><circle cx="1423.17" cy="788.50" r="3.2" fill="#6b7280"/><circle cx="1497.83" cy="841.00" r="3.2" fill="#3b82f6"/><circle cx="1572.50" cy="883.00" r="3.2" fill="#ec4899"/></svg><div style="position:absolute;left:1106.83px;top:885.00px;font-size:12.00px;line-height:16px;color:#666666;white-space:pre;font-family:'Liberation Sans',sans-serif;">0</div>
<div style="position:absolute;left:1100.15px;top:864.00px;font-size:12.00px;line-height:16px;color:#666666;white-space:pre;font-family:'Liberation Sans',sans-serif;">10</div>
<div style="position:absolute;left:1100.15px;top:843.00px;font-size:12.00px;line-height:16px;color:#666666;white-space:pre;font-family:'Liberation Sans',sans-serif;">20</div>
<div style="position:absolute;left:1100.15px;top:822.00px;font-size:12.00px;line-height:16px;color:#666666;white-space:pre;font-family:'Liberation Sans',sans-serif;">30</div>
<div style="position:absolute;left:1100.15px;top:801.00px;font-size:12.00px;line-height:16px;color:#666666;white-space:pre;font-family:'Liberation Sans',sans-serif;">40</div>
<div style="position:absolute;left:1100.15px;top:780.00px;font-size:12.00px;line-height:16px;color:#666666;white-space:pre;font-family:'Liberation Sans',sans-serif;">50</div>
<div style="position:absolute;left:1100.15px;top:759.00px;font-size:12.00px;line-height:16px;color:#666666;white-space:pre;font-family:'Liberation Sans',sans-serif;">60</div>
<div style="position:absolute;left:1100.15px;top:738.00px;font-size:12.00px;line-height:16px;color:#666666;white-space:pre;font-family:'Liberation Sans',sans-serif;">70</div>
<div style="position:absolute;left:1100.15px;top:717.00px;font-size:12.00px;line-height:16px;color:#666666;white-space:pre;font-family:'Liberation Sans',sans-serif;">80</div>
<div style="position:absolute;left:1100.15px;top:696.00px;font-size:12.00px;line-height:16px;color:#666666;white-space:pre;font-family:'Liberation Sans',sans-serif;">90</div>
<div style="position:absolute;left:1109.15px;top:903.00px;font-size:12.00px;line-height:16px;color:#666666;white-space:pre;font-family:'Liberation Sans',sans-serif;">anger</div>
<div style="position:absolute;left:1180.16px;top:903.00px;font-size:12.00px;line-height:16px;color:#666666;white-space:pre;font-family:'Liberation Sans',sans-serif;">disgust</div>
<div style="position:absolute;left:1263.49px;top:903.00px;font-size:12.00px;line-height:16px;color:#666666;white-space:pre;font-family:'Liberation Sans',sans-serif;">fear</div>
<div style="position:absolute;left:1332.15px;top:903.00px;font-size:12.00px;line-height:16px;color:#666666;white-space:pre;font-family:'Liberation Sans',sans-serif;">happy</div>
<div style="position:absolute;left:1404.82px;top:903.00px;font-size:12.00px;line-height:16px;color:#666666;white-space:pre;font-family:'Liberation Sans',sans-serif;">neutral</div>
<div style="position:absolute;left:1488.16px;top:903.00px;font-size:12.00px;line-height:16px;color:#666666;white-space:pre;font-family:'Liberation Sans',sans-serif;">sad</div>
<div style="position:absolute;left:1551.16px;top:903.00px;font-size:12.00px;line-height:16px;color:#666666;white-space:pre;font-family:'Liberation Sans',sans-serif;">surprise</div>
<div style="position:absolute;left:1818.0px;top:373.5px;width:709.0px;height:524.5px;border-radius:8px;background:rgba(17,24,39,0.5)"></div>
<div style="position:absolute;left:1865.51px;top:403.00px;width:41.40px;height:13.40px;background:rgba(255,99,132,0.10);border:1.40px solid #ef4444;box-sizing:border-box"></div>
<div style="position:absolute;left:1912.21px;top:401.00px;font-size:12.00px;line-height:16px;color:#666666;white-space:pre;font-family:'Liberation Sans',sans-serif;">anger</div>
<div style="position:absolute;left:1952.20px;top:403.00px;width:41.40px;height:13.40px;background:rgba(255,99,132,0.10);border:1.40px solid #22c55e;box-sizing:border-box"></div>
<div style="position:absolute;left:1998.90px;top:401.00px;font-size:12.00px;line-height:16px;color:#666666;white-space:pre;font-family:'Liberation Sans',sans-serif;">disgust</div>
<div style="position:absolute;left:2046.22px;top:403.00px;width:41.40px;height:13.40px;background:rgba(255,99,132,0.10);border:1.40px solid #a855f7;box-sizing:border-box"></div>
<div style="position:absolute;left:2092.92px;top:401.00px;font-size:12.00px;line-height:16px;color:#666666;white-space:pre;font-family:'Liberation Sans',sans-serif;">fear</div>
<div style="position:absolute;left:2122.90px;top:403.00px;width:41.40px;height:13.40px;background:rgba(255,99,132,0.10);border:1.40px solid #eab308;box-sizing:border-box"></div>
<div style="position:absolute;left:2169.60px;top:401.00px;font-size:12.00px;line-height:16px;color:#666666;white-space:pre;font-family:'Liberation Sans',sans-serif;">happy</div>
<div style="position:absolute;left:2211.60px;top:403.00px;width:41.40px;height:13.40px;background:rgba(255,99,132,0.10);border:1.40px solid #6b7280;box-sizing:border-box"></div>
<div style="position:absolute;left:2258.30px;top:401.00px;font-size:12.00px;line-height:16px;color:#666666;white-space:pre;font-family:'Liberation Sans',sans-serif;">neutral</div>
<div style="position:absolute;left:1997.89px;top:425.00px;width:41.40px;height:13.40px;background:rgba(255,99,132,0.10);border:1.40px solid #3b82f6;box-sizing:border-box"></div>
<div style="position:absolute;left:2044.59px;top:423.00px;font-size:12.00px;line-height:16px;color:#666666;white-space:pre;font-family:'Liberation Sans',sans-serif;">sad</div>
<div style="position:absolute;left:2073.23px;top:425.00px;width:41.40px;height:13.40px;background:rgba(255,99,132,0.10);border:1.40px solid #ec4899;box-sizing:border-box"></div>
<div style="position:absolute;left:2119.93px;top:423.00px;font-size:12.00px;line-height:16px;color:#666666;white-space:pre;font-family:'Liberation Sans',sans-serif;">surprise</div>
<svg style="position:absolute;left:0;top:0" width="2560" height="1321"><circle cx="2080.00" cy="662.70" r="23.03" fill="none" stroke="rgba(0,0,0,0.10)" stroke-width="1"/><circle cx="2080.00" cy="662.70" r="46.06" fill="none" stroke="rgba(0,0,0,0.10)" stroke-width="1"/><circle cx="2080.00" cy="662.70" r="69.09" fill="none" stroke="rgba(0,0,0,0.10)" stroke-width="1"/><circle cx="2080.00" cy="662.70" r="92.12" fill="none" stroke="rgba(0,0,0,0.10)" stroke-width="1"/><circle cx="2080.00" cy="662.70" r="115.15" fill="none" stroke="rgba(0,0,0,0.10)" stroke-width="1"/><circle cx="2080.00" cy="662.70" r="138.18" fill="none" stroke="rgba(0,0,0,0.10)" stroke-width="1"/><circle cx="2080.00" cy="662.70" r="161.21" fill="none" stroke="rgba(0,0,0,0.10)" stroke-width="1"/><circle cx="2080.00" cy="662.70" r="184.24" fill="none" stroke="rgba(0,0,0,0.10)" stroke-width="1"/><circle cx="2080.00" cy="662.70" r="207.27" fill="none" stroke="rgba(0,0,0,0.10)" stroke-width="1"/><path d="M2080.00 662.70L2080.00 625.85A36.85 36.85 0 0 1 2108.81 639.73Z" fill="rgba(255,99,132,0.10)" stroke="#ef4444" stroke-width="1.3" stroke-opacity="0.9" stroke-linejoin="round"/><path d="M2080.00 662.70L2143.02 612.44A80.61 80.61 0 0 1 2158.58 680.64Z" fill="rgba(255,99,132,0.10)" stroke="#22c55e" stroke-width="1.3" stroke-opacity="0.9" stroke-linejoin="round"/><path d="M2080.00 662.70L2097.06 666.59A17.50 17.50 0 0 1 2087.59 678.47Z" fill="rgba(255,99,132,0.10)" stroke="#a855f7" stroke-width="1.3" stroke-opacity="0.9" stroke-linejoin="round"/><path d="M2080.00 662.70L2169.93 849.44A207.27 207.27 0 0 1 1990.07 849.44Z" fill="rgba(255,99,132,0.10)" stroke="#eab308" stroke-width="1.3" stroke-opacity="0.9" stroke-linejoin="round"/><path d="M2080.00 662.70L2030.04 766.45A115.15 115.15 0 0 1 1967.74 688.32Z" fill="rgba(255,99,132,0.10)" stroke="#6b7280" stroke-width="1.3" stroke-opacity="0.9" stroke-linejoin="round"/><path d="M2080.00 662.70L2023.87 675.51A57.57 57.57 0 0 1 2034.99 626.80Z" fill="rgba(255,99,132,0.10)" stroke="#3b82f6" stroke-width="1.3" stroke-opacity="0.9" stroke-linejoin="round"/><path d="M2080.00 662.70L2071.00 655.52A11.52 11.52 0 0 1 2080.00 651.19Z" fill="rgba(255,99,132,0.10)" stroke="#ec4899" stroke-width="1.3" stroke-opacity="0.9" stroke-linejoin="round"/></svg><div style="position:absolute;left:2071.20px;top:632.27px;width:17.6px;height:15.6px;background:rgba(255,255,255,0.75)"></div>
<div style="position:absolute;left:2073.33px;top:631.00px;font-size:12.00px;line-height:16px;color:#666666;white-space:pre;font-family:'Liberation Sans',sans-serif;">10</div>
<div style="position:absolute;left:2071.20px;top:609.24px;width:17.6px;height:15.6px;background:rgba(255,255,255,0.75)"></div>
<div style="position:absolute;left:2073.33px;top:608.00px;font-size:12.00px;line-height:16px;color:#666666;white-space:pre;font-family:'Liberation Sans',sans-serif;">20</div>
<div style="position:absolute;left:2071.20px;top:586.21px;width:17.6px;height:15.6px;background:rgba(255,255,255,0.75)"></div>
<div style="position:absolute;left:2073.33px;top:585.00px;font-size:12.00px;line-height:16px;color:#666666;white-space:pre;font-family:'Liberation Sans',sans-serif;">30</div>
<div style="position:absolute;left:2071.20px;top:563.18px;width:17.6px;height:15.6px;background:rgba(255,255,255,0.75)"></div>
<div style="position:absolute;left:2073.33px;top:562.00px;font-size:12.00px;line-height:16px;color:#666666;white-space:pre;font-family:'Liberation Sans',sans-serif;">40</div>
<div style="position:absolute;left:2071.20px;top:540.15px;width:17.6px;height:15.6px;background:rgba(255,255,255,0.75)"></div>
<div style="position:absolute;left:2073.33px;top:539.00px;font-size:12.00px;line-height:16px;color:#666666;white-space:pre;font-family:'Liberation Sans',sans-serif;">50</div>
<div style="position:absolute;left:2071.20px;top:517.12px;width:17.6px;height:15.6px;background:rgba(255,255,255,0.75)"></div>
<div style="position:absolute;left:2073.33px;top:516.00px;font-size:12.00px;line-height:16px;color:#666666;white-space:pre;font-family:'Liberation Sans',sans-serif;">60</div>
<div style="position:absolute;left:2071.20px;top:494.09px;width:17.6px;height:15.6px;background:rgba(255,255,255,0.75)"></div>
<div style="position:absolute;left:2073.33px;top:493.00px;font-size:12.00px;line-height:16px;color:#666666;white-space:pre;font-family:'Liberation Sans',sans-serif;">70</div>
<div style="position:absolute;left:2071.20px;top:471.06px;width:17.6px;height:15.6px;background:rgba(255,255,255,0.75)"></div>
<div style="position:absolute;left:2073.33px;top:470.00px;font-size:12.00px;line-height:16px;color:#666666;white-space:pre;font-family:'Liberation Sans',sans-serif;">80</div>
<div style="position:absolute;left:2071.20px;top:448.03px;width:17.6px;height:15.6px;background:rgba(255,255,255,0.75)"></div>
<div style="position:absolute;left:2073.33px;top:447.00px;font-size:12.00px;line-height:16px;color:#666666;white-space:pre;font-family:'Liberation Sans',sans-serif;">90</div>
<div style="position:absolute;left:336.0px;top:974.0px;width:2191.0px;height:526.0px;border-radius:8px;background:rgba(17,24,39,0.5)"></div>
<div style="position:absolute;left:869.60px;top:1004.00px;width:40px;height:12px;background:#ef4444"></div>
<div style="position:absolute;left:915.60px;top:1001.00px;font-size:12.00px;line-height:16px;color:#666666;white-space:pre;font-family:'Liberation Sans',sans-serif;">anger</div>
<div style="position:absolute;left:956.29px;top:1004.00px;width:40px;height:12px;background:#22c55e"></div>
<div style="position:absolute;left:1002.29px;top:1001.00px;font-size:12.00px;line-height:16px;color:#666666;white-space:pre;font-family:'Liberation Sans',sans-serif;">disgust</div>
<div style="position:absolute;left:1050.31px;top:1004.00px;width:40px;height:12px;background:#a855f7"></div>
<div style="position:absolute;left:1096.31px;top:1001.00px;font-size:12.00px;line-height:16px;color:#666666;white-space:pre;font-family:'Liberation Sans',sans-serif;">fear</div>
<div style="position:absolute;left:1126.99px;top:1004.00px;width:40px;height:12px;background:#eab308"></div>
<div style="position:absolute;left:1172.99px;top:1001.00px;font-size:12.00px;line-height:16px;color:#666666;white-space:pre;font-family:'Liberation Sans',sans-serif;">happy</div>
<div style="position:absolute;left:1215.68px;top:1004.00px;width:40px;height:12px;background:#6b7280"></div>
<div style="position:absolute;left:1261.68px;top:1001.00px;font-size:12.00px;line-height:16px;color:#666666;white-space:pre;font-family:'Liberation Sans',sans-serif;">neutral</div>
<div style="position:absolute;left:1308.38px;top:1004.00px;width:40px;height:12px;background:#3b82f6"></div>
<div style="position:absolute;left:1354.38px;top:1001.00px;font-size:12.00px;line-height:16px;color:#666666;white-space:pre;font-family:'Liberation Sans',sans-serif;">sad</div>
<div style="position:absolute;left:1383.72px;top:1004.00px;width:40px;height:12px;background:#ec4899"></div>
<div style="position:absolute;left:1429.72px;top:1001.00px;font-size:12.00px;line-height:16px;color:#666666;white-space:pre;font-family:'Liberation Sans',sans-serif;">surprise</div>
<svg style="position:absolute;left:0;top:0" width="2560" height="1321"><g shape-rendering="crispEdges"><line x1="390.50" y1="1026.10" x2="390.50" y2="1321" stroke="rgba(0,0,0,0.11)" stroke-width="1"/><line x1="656.42" y1="1026.10" x2="656.42" y2="1321" stroke="rgba(0,0,0,0.11)" stroke-width="1"/><line x1="922.33" y1="1026.10" x2="922.33" y2="1321" stroke="rgba(0,0,0,0.11)" stroke-width="1"/><line x1="1188.25" y1="1026.10" x2="1188.25" y2="1321" stroke="rgba(0,0,0,0.11)" stroke-width="1"/><line x1="1454.17" y1="1026.10" x2="1454.17" y2="1321" stroke="rgba(0,0,0,0.11)" stroke-width="1"/><line x1="1720.08" y1="1026.10" x2="1720.08" y2="1321" stroke="rgba(0,0,0,0.11)" stroke-width="1"/><line x1="1986.00" y1="1026.10" x2="1986.00" y2="1321" stroke="rgba(0,0,0,0.11)" stroke-width="1"/><line x1="382.50" y1="1026.10" x2="1986.00" y2="1026.10" stroke="rgba(0,0,0,0.11)" stroke-width="1"/><line x1="382.50" y1="1151.70" x2="1986.00" y2="1151.70" stroke="rgba(0,0,0,0.11)" stroke-width="1"/><line x1="382.50" y1="1277.30" x2="1986.00" y2="1277.30" stroke="rgba(0,0,0,0.11)" stroke-width="1"/></g><rect x="427.73" y="1309.20" width="191.46" height="12.56" fill="#ec4899"/><rect x="427.73" y="1321.76" width="191.46" height="62.80" fill="#3b82f6"/><rect x="693.64" y="1306.44" width="191.46" height="12.56" fill="#ec4899"/><rect x="693.64" y="1319.00" width="191.46" height="62.80" fill="#3b82f6"/><rect x="959.56" y="1130.10" width="191.46" height="12.56" fill="#ec4899"/><rect x="959.56" y="1142.66" width="191.46" height="62.80" fill="#3b82f6"/><rect x="959.56" y="1205.46" width="191.46" height="200.96" fill="#6b7280"/><rect x="1225.48" y="1306.44" width="191.46" height="12.56" fill="#ec4899"/><rect x="1225.48" y="1319.00" width="191.46" height="62.80" fill="#3b82f6"/><rect x="1491.39" y="1079.86" width="191.46" height="12.56" fill="#ec4899"/><rect x="1491.39" y="1092.42" width="191.46" height="62.80" fill="#3b82f6"/><rect x="1491.39" y="1155.22" width="191.46" height="125.60" fill="#6b7280"/><rect x="1491.39" y="1280.82" width="191.46" height="226.08" fill="#eab308"/><rect x="1757.31" y="1205.46" width="191.46" height="12.56" fill="#ec4899"/><rect x="1757.31" y="1218.02" width="191.46" height="62.80" fill="#3b82f6"/><rect x="1757.31" y="1280.82" width="191.46" height="125.60" fill="#6b7280"/><rect x="1757.31" y="1406.42" width="191.46" height="226.08" fill="#eab308"/></svg><div style="position:absolute;left:359.48px;top:1018.00px;font-size:12.00px;line-height:16px;color:#666666;white-space:pre;font-family:'Liberation Sans',sans-serif;">300</div>
<div style="position:absolute;left:359.48px;top:1143.00px;font-size:12.00px;line-height:16px;color:#666666;white-space:pre;font-family:'Liberation Sans',sans-serif;">250</div>
<div style="position:absolute;left:359.48px;top:1269.00px;font-size:12.00px;line-height:16px;color:#666666;white-space:pre;font-family:'Liberation Sans',sans-serif;">200</div>
</div>
<div id="header"><div id="hb"><div id="hb2">
<div style="position:absolute;left:336.0px;top:-300.0px;width:1517.5px;height:597.5px;border-radius:8px;background:rgba(17,24,39,0.5)"></div>
<svg style="position:absolute;left:358.80px;top:17.90px" width="21.80" height="21.80" viewBox="-1.1010 -1.1010 2.2020 2.2020"><defs><clipPath id="fc6"><circle r="1"/></clipPath></defs><circle r="1" fill="#ffb02e"/><rect x="-1" y="-1" width="2" height="0.864" fill="#5092ff" clip-path="url(#fc6)"/><circle cx="-0.400" cy="-0.175" r="0.320" fill="#fff"/><circle cx="0.400" cy="-0.175" r="0.320" fill="#fff"/><circle cx="-0.300" cy="-0.146" r="0.136" fill="#402a32"/><circle cx="0.270" cy="-0.146" r="0.136" fill="#402a32"/><path d="M-0.72 -0.53Q-0.47 -0.53 -0.40 -0.77" fill="none" stroke="#402a32" stroke-width="0.050" stroke-linecap="round" stroke-linejoin="round"/><path d="M0.71 -0.53Q0.46 -0.53 0.38 -0.77" fill="none" stroke="#402a32" stroke-width="0.050" stroke-linecap="round" stroke-linejoin="round"/><path d="M-0.485 0.66C-0.485 0.36 -0.28 0.214 0 0.214C0.27 0.214 0.476 0.36 0.476 0.66C0.476 0.70 0.45 0.718 0.41 0.718L-0.42 0.718C-0.46 0.718 -0.485 0.70 -0.485 0.66Z" fill="#bb1d80"/></svg>
<div style="position:absolute;left:384.30px;top:17.00px;font-size:19.50px;line-height:24px;color:#abb1c5;white-space:pre;font-family:'Liberation Sans',sans-serif;font-weight:700;-webkit-text-stroke:0.35px #abb1c5;transform:scaleX(0.8760);transform-origin:0 0;">FEAR</div>
<div style="position:absolute;left:1821.50px;top:19.00px;font-size:15.30px;line-height:19px;color:#abb1c5;white-space:pre;font-family:'Liberation Sans',sans-serif;transform:scaleX(0.9041);transform-origin:0 0;">%</div>
<div style="position:absolute;left:1785.00px;top:18.00px;font-size:20.00px;line-height:24px;color:#abb1c5;white-space:pre;font-family:'Liberation Sans',sans-serif;font-weight:700;-webkit-text-stroke:0.35px #abb1c5;transform:scaleX(1.1510);transform-origin:0 0;">7.6</div>
<div style="position:absolute;left:356px;top:42.0px;width:1477.8px;height:12px;border-radius:6px;background:#21252f"></div>
<div style="position:absolute;left:356px;top:42.0px;width:112.3px;height:12px;border-radius:6px;background:#20b2a6"></div>
<svg style="position:absolute;left:358.80px;top:73.90px" width="21.80" height="21.80" viewBox="-1.1010 -1.1010 2.2020 2.2020"><defs><clipPath id="hc7"><rect x="-1" y="-1" width="2" height="0.864"/></clipPath></defs><circle r="1" fill="#ffb02e"/><g clip-path="url(#hc7)"><ellipse cx="-0.40" cy="-0.43" rx="0.32" ry="0.36" fill="#fff"/><ellipse cx="0.40" cy="-0.43" rx="0.32" ry="0.36" fill="#fff"/><ellipse cx="-0.375" cy="-0.390" rx="0.195" ry="0.243" fill="#402a32"/><ellipse cx="0.350" cy="-0.390" rx="0.195" ry="0.243" fill="#402a32"/></g><path d="M-0.65 0.0L0.63 0.0C0.63 0.40 0.33 0.64 -0.01 0.64C-0.35 0.64 -0.65 0.40 -0.65 0.0Z" fill="#bb1d80"/><path d="M-0.60 0.01L0.58 0.01L0.555 0.09Q0.54 0.117 0.50 0.117L-0.52 0.117Q-0.56 0.117 -0.575 0.09Z" fill="#fff"/></svg>
<div style="position:absolute;left:384.30px;top:73.00px;font-size:19.50px;line-height:24px;color:#abb1c5;white-space:pre;font-family:'Liberation Sans',sans-serif;font-weight:700;-webkit-text-stroke:0.35px #abb1c5;transform:scaleX(0.9630);transform-origin:0 0;">HAPPY</div>
<div style="position:absolute;left:1821.50px;top:75.00px;font-size:15.30px;line-height:19px;color:#abb1c5;white-space:pre;font-family:'Liberation Sans',sans-serif;transform:scaleX(0.9041);transform-origin:0 0;">%</div>
<div style="position:absolute;left:1794.70px;top:74.00px;font-size:20.00px;line-height:24px;color:#abb1c5;white-space:pre;font-family:'Liberation Sans',sans-serif;font-weight:700;-webkit-text-stroke:0.35px #abb1c5;">90</div>
<div style="position:absolute;left:356px;top:98.0px;width:1477.8px;height:12px;border-radius:6px;background:#21252f"></div>
<div style="position:absolute;left:356px;top:98.0px;width:1330.0px;height:12px;border-radius:6px;background:#20b2a6"></div>
<div style="position:absolute;left:1886.0px;top:-300.0px;width:641.0px;height:585.5px;border-radius:8px;background:rgba(17,24,39,0.5)"></div>
<div style="position:absolute;left:1906px;top:-54px;width:601px;height:320px;border-radius:8px;overflow:hidden;background:#2a2f3c"><div style="position:absolute;left:0;top:160px;width:601px;height:80px;background:#252835"></div><div style="position:absolute;left:0;top:0;width:601px;height:80px;background:#252835"></div></div>
<div style="position:absolute;left:2072.50px;top:-10.00px;font-size:16.00px;line-height:19px;color:#eceef5;white-space:pre;font-family:'Liberation Sans',sans-serif;font-weight:700;transform:scaleX(1.0246);transform-origin:0 0;">Rating</div>
<div style="position:absolute;left:2220.50px;top:-11.00px;font-size:16.00px;line-height:19px;color:#d5d9e6;white-space:pre;font-family:'Liberation Sans',sans-serif;font-weight:700;transform:scaleX(1.0544);transform-origin:0 0;">%</div>
<div style="position:absolute;left:2373.00px;top:-10.00px;font-size:16.00px;line-height:19px;color:#e4e7f0;white-space:pre;font-family:'Liberation Sans',sans-serif;font-weight:700;transform:scaleX(0.9220);transform-origin:0 0;">Emotion</div>
<svg style="position:absolute;left:1934.90px;top:55.00px;overflow:visible" width="24" height="22" viewBox="0 0 24 22"><path d="M1.6 6.9H5.4L11.6 1.8Q12.7 1.1 12.7 2.4V19.6Q12.7 20.9 11.6 20.2L5.4 15.1H1.6Q0.5 15.1 0.5 14V8Q0.5 6.9 1.6 6.9Z" fill="#a7adbe"/><path d="M15.6 7.3Q17.9 11 15.6 14.7" fill="none" stroke="#a7adbe" stroke-width="1.15" stroke-linecap="butt"/><path d="M18.1 4.0Q23.0 11 18.1 18.0" fill="none" stroke="#a7adbe" stroke-width="1.15" stroke-linecap="butt"/></svg>
<div style="position:absolute;left:2072.90px;top:56.00px;font-size:17.00px;line-height:21px;color:#aab0c3;white-space:pre;font-family:'Liberation Sans',sans-serif;transform:scaleX(0.9731);transform-origin:0 0;">1</div>
<div style="position:absolute;left:2222.45px;top:57.00px;font-size:18.00px;line-height:22px;color:#aab0c3;white-space:pre;font-family:'Liberation Sans',sans-serif;font-weight:700;-webkit-text-stroke:0.30px #aab0c3;transform:scaleX(1.0239);transform-origin:0 0;">90</div>
<div style="position:absolute;left:2373.30px;top:57.00px;font-size:16.00px;line-height:19px;color:#aab0c3;white-space:pre;font-family:'Liberation Sans',sans-serif;font-weight:700;-webkit-text-stroke:0.30px #aab0c3;transform:scaleX(0.9342);transform-origin:0 0;">HAPPY</div>
</div></div></div>
<div id="hd">
<svg style="position:absolute;left:348.00px;top:25.00px" width="16.00" height="16.00" viewBox="0 0 512 512" preserveAspectRatio="none"><path fill="#a9afc4" d="M505 442.7L405.3 343c-4.5-4.5-10.6-7-17-7H372c27.6-35.3 44-79.7 44-128C416 93.1 322.9 0 208 0S0 93.1 0 208s93.1 208 208 208c48.3 0 92.7-16.4 128-44v16.3c0 6.4 2.5 12.5 7 17l99.7 99.7c9.4 9.4 24.6 9.4 33.9 0l28.300-28.300c9.400-9.400 9.400-24.600.100-34zM208 336c-70.700 0-128-57.200-128-128 0-70.700 57.200-128 128-128 70.700 0 128 57.200 128 128 0 70.700-57.200 128-128 128z"/></svg>
<div style="position:absolute;left:381.50px;top:25.00px;font-size:16.00px;line-height:19px;color:#9aa0b8;white-space:pre;font-family:'Liberation Sans',sans-serif;transform:scaleX(0.8824);transform-origin:0 0;">Search...</div>
<svg style="position:absolute;left:2442.8px;top:11.8px" width="40.4" height="40.4" viewBox="0 0 40 40">
<defs><clipPath id="avc"><circle cx="20" cy="20" r="20"/></clipPath>
<linearGradient id="avg" x1="0" y1="0" x2="0" y2="1"><stop offset="0" stop-color="#93a4b8"/><stop offset="0.55" stop-color="#a5c2d0"/><stop offset="1" stop-color="#9db0b8"/></linearGradient></defs>
<g clip-path="url(#avc)">
<rect width="40" height="40" fill="url(#avg)"/>
<path d="M0 27.500C4 26.500 9 27 13 29L17 40H0Z" fill="#958a86"/>
<path d="M2 31C6 30 10 31.500 13 34L14 40H2Z" fill="#a39c98"/>
<path d="M10.800 8.500C14 7.500 19 7.500 23 8.500L26 14L29 21L32 28.500L35 37L36 40H15.500C16.200 36.500 16.500 33.500 16.800 31.500C15 31.800 13.200 31 12.600 29.500C12.200 28.300 12.300 27.200 11.800 26C11.300 25.200 10.800 24.500 11 23.500C10.400 22.800 10.300 22 10.600 21.200C10 20.600 10 19.800 10.300 19.200C9.300 18.700 8.800 18 9.200 17.200C9.800 16 10.300 14.800 10.300 13.200C10.200 11.500 10.300 10 10.800 8.500Z" fill="#ba968b"/>
<path d="M16.800 31.500C19.500 31 22 29.500 24 27L27 40H15.500C16.200 36.500 16.500 33.500 16.800 31.500Z" fill="#96706a"/>
<path d="M12.500 12.300C14.500 11.600 17 11.800 19 12.800C18.500 14 16 14.500 13.600 14C12.800 13.700 12.400 13 12.500 12.300Z" fill="#4b3130"/>
<path d="M10.300 21.300C11.200 21.200 12.200 21.600 12.600 22.300C12.200 23 11.400 23.300 10.800 23.200Z" fill="#9a4a4a"/>
<path d="M20 16C22 18 23 22 22.500 26C24 24 25.500 22.500 27 21.500L25 14Z" fill="#a9837a"/>
<path d="M8.500 7C10 3.500 15 0.500 21 0C28 -0.500 35 2.500 38.500 8C41 13 41 20 39.500 26C38.800 29 38 31 36.500 31.300C34 30.500 32 28.500 30.500 26C28.500 25.500 27 23.500 26.600 21C25.500 18.500 24.800 15.500 24.600 12.500C24 11 23.500 9.800 22.500 9C19 10.300 15 10.300 11.500 10.800C11 11.500 10.500 11 10.300 10C9.300 9.300 8.500 8.300 8.500 7Z" fill="#13252a"/>
<path d="M33 28C35 28.500 37 30.500 38.500 30L40 33V40H27.500C28 36 30 32 33 28Z" fill="#2c3b38"/>
<path d="M25 38.500C28 36.500 31 34 33 31.500" fill="none" stroke="#8d8577" stroke-width="0.500"/>
<circle cx="29" cy="22.300" r="1.700" fill="none" stroke="#c9c2bb" stroke-width="0.650"/>
</g></svg>
<svg style="position:absolute;left:2499.30px;top:20.80px" width="23.60" height="24.20" viewBox="0 0 496 512" preserveAspectRatio="none"><path fill="#b3b8cc" d="M244.8 8C106.1 8 0 113.3 0 252c0 110.9 69.8 205.8 169.5 239.2 12.8 2.3 17.3-5.6 17.3-12.100 0-6.200-.300-40.400-.300-61.400 0 0-70 15-84.700-29.800 0 0-11.400-29.100-27.800-36.600 0 0-22.900-15.700 1.600-15.400 0 0 24.900 2 38.600 25.800 21.900 38.600 58.600 27.500 72.900 20.900 2.300-16 8.800-27.100 16-33.700-55.900-6.200-112.300-14.300-112.300-110.500 0-27.500 7.600-41.300 23.600-58.900-2.600-6.500-11.100-33.300 2.600-67.900 20.900-6.500 69 27 69 27 20-5.600 41.500-8.500 62.800-8.500s42.800 2.900 62.800 8.500c0 0 48.100-33.600 69-27 13.700 34.700 5.200 61.400 2.600 67.900 16 17.700 25.800 31.500 25.800 58.900 0 96.500-58.900 104.200-114.800 110.500 9.200 7.900 17 22.900 17 46.400 0 33.700-.300 75.400-.300 83.600 0 6.500 4.600 14.400 17.300 12.100C428.200 457.800 496 362.900 496 252 496 113.300 383.500 8 244.800 8z"/></svg>
</div>
<div id="sidebar"><div style="position:absolute;left:0;top:0;width:320px;height:1321px;will-change:transform">
<svg style="position:absolute;left:26px;top:21px;overflow:visible" width="56" height="36" viewBox="0 0 56 36">
<g fill="none" stroke-linecap="round">
<path d="M3.600 13.800L7 15.200" stroke="#2b2bd8" stroke-width="1.500"/>
<path d="M6.800 10.200L9 13.200" stroke="#d8c22a" stroke-width="1.600"/>
<path d="M11.300 8.700L11.600 11.800" stroke="#d82a2a" stroke-width="1.500"/>
<g stroke="#e4e4ea" stroke-width="1.150" stroke-linejoin="round">
<path d="M8 18.300C11 17.800 14.800 17.600 17.600 17C17.800 14.500 16 12.700 13.500 12.900C10.300 13.200 8.300 16.500 8.400 20.300C8.500 24.300 11.500 26.300 15.800 25.500"/>
<path d="M10 20.500C10.500 23.300 12.500 24.300 15 24"/>
<path d="M20.500 17.500L19.500 25.500M20.300 19.500C21.300 17.600 22.500 17.300 22.600 18.600L22 23M22.600 19.500C23.600 17.600 24.800 17.500 24.800 18.800L24.200 23.500"/>
<path d="M28 17.500L25.800 32.300M27.600 19.800C29 17.400 31 17.800 30.600 20.500C30.200 23 28.300 24.600 27.100 23.600"/>
<path d="M35.500 18.500C33.500 17.300 31.800 19.300 31.600 21.500C31.500 23.600 33 23.800 34 22.500C34.800 21.400 35.300 19.800 35.500 18.500C35.300 20.500 35 22.500 35.600 23.600"/>
<path d="M38.300 13.500L36.600 24.200M35.800 17.800L40 17.300"/>
<path d="M42.200 12.500L40.300 24.600M41 20C42.300 18 43.800 17.800 43.800 19.300L43.200 24.300"/>
<path d="M46 18.500C45.600 20.500 45.300 22.800 46.200 23.200C47.300 23.600 48.600 21 49 18.500C48.600 23 47.300 28.500 45 32.800C44.500 33.700 43.800 33 44.300 32C45.300 29.500 47 26.500 48.300 24.500"/>
</g></g>
<circle cx="14" cy="15.300" r="0.750" fill="#e4e4ea"/>
</svg>
<div style="position:absolute;left:103.40px;top:34.00px;font-size:11.00px;line-height:14px;color:#c4cad9;white-space:pre;font-family:'Liberation Mono',monospace;-webkit-text-stroke:0.25px #c4cad9;transform:scaleX(0.9877);transform-origin:0 0;">0.0.1</div>
<div style="position:absolute;left:32.30px;top:101.00px;font-size:12.30px;line-height:16px;color:#5d5b7b;white-space:pre;font-family:'Liberation Sans',sans-serif;font-weight:700;-webkit-text-stroke:0.20px #5d5b7b;transform:scaleX(0.9603);transform-origin:0 0;">Category</div>
<svg style="position:absolute;left:32.80px;top:135.60px" width="14.40" height="16.30" viewBox="0 0 448 512" preserveAspectRatio="none"><path fill="#a3a9bd" d="M224 256c70.7 0 128-57.3 128-128S294.7 0 224 0 96 57.3 96 128s57.3 128 128 128zm89.6 32h-16.7c-22.2 10.2-46.9 16-72.9 16s-50.6-5.8-72.9-16h-16.7C60.2 288 0 348.2 0 422.4V464c0 26.5 21.5 48 48 48h352c26.5 0 48-21.5 48-48v-41.6c0-74.2-60.2-134.4-134.4-134.4z"/></svg>
<div style="position:absolute;left:60.40px;top:135.00px;font-size:16.00px;line-height:19px;color:#a3a9bd;white-space:pre;font-family:'Liberation Sans',sans-serif;transform:scaleX(0.9834);transform-origin:0 0;">Profile</div>
<svg style="position:absolute;left:31.90px;top:185.70px" width="16.10" height="12.80" viewBox="0 0 640 512" preserveAspectRatio="none"><path fill="#a3a9bd" d="M192 256c61.9 0 112-50.1 112-112S253.9 32 192 32 80 82.1 80 144s50.1 112 112 112zm76.8 32h-8.3c-20.8 10-43.9 16-68.5 16s-47.600-6-68.500-16h-8.300C51.600 288 0 339.600 0 403.200V432c0 26.500 21.500 48 48 48h288c26.500 0 48-21.500 48-48v-28.800c0-63.600-51.600-115.200-115.200-115.200zM480 256c53 0 96-43 96-96s-43-96-96-96-96 43-96 96 43 96 96 96zm48 32h-3.800c-13.900 4.800-28.600 8-44.200 8s-30.300-3.200-44.200-8H432c-20.400 0-39.200 5.900-55.700 15.400 24.400 26.300 39.700 61.200 39.700 99.800v38.400c0 2.200-.500 4.300-.600 6.400H592c26.500 0 48-21.500 48-48 0-61.900-50.100-112-112-112z"/></svg>
<div style="position:absolute;left:60.40px;top:183.00px;font-size:16.00px;line-height:19px;color:#a3a9bd;white-space:pre;font-family:'Liberation Sans',sans-serif;transform:scaleX(0.9781);transform-origin:0 0;">Connections</div>
<svg style="position:absolute;left:31.90px;top:232.80px" width="16.10" height="14.30" viewBox="0 0 576 512" preserveAspectRatio="none"><path fill="#a3a9bd" d="M288 0c-69.59 0-126 56.41-126 126 0 56.26 82.35 158.8 113.9 196.02 6.39 7.54 17.82 7.54 24.2 0C331.65 284.8 414 182.26 414 126 414 56.41 357.59 0 288 0zM20.120 215.950A32.006 32.006 0 0 0 0 245.660v250.320c0 11.320 11.430 19.060 21.940 14.860L160 448V214.920c-8.840-15.980-16.070-31.540-21.250-46.420L20.120 215.950zM288 359.670c-14.070 0-27.380-6.180-36.510-16.960-19.660-23.200-40.570-49.620-59.490-76.720v182l192 64V266c-18.920 27.090-39.820 53.520-59.490 76.720-9.130 10.770-22.440 16.950-36.510 16.950zm266.060-198.510L416 224v288l139.880-55.950A31.996 31.996 0 0 0 576 426.340V176.020c0-11.320-11.430-19.060-21.940-14.860z"/></svg>
<div style="position:absolute;left:60.40px;top:231.00px;font-size:16.00px;line-height:19px;color:#a3a9bd;white-space:pre;font-family:'Liberation Sans',sans-serif;transform:scaleX(0.9883);transform-origin:0 0;">Playground</div>
<div style="position:absolute;left:32px;top:272px;width:256px;height:1px;background:#39355a"></div>
<div style="position:absolute;left:32.50px;top:286.00px;font-size:12.30px;line-height:16px;color:#5d5b7b;white-space:pre;font-family:'Liberation Sans',sans-serif;font-weight:700;-webkit-text-stroke:0.20px #5d5b7b;transform:scaleX(0.9089);transform-origin:0 0;">Legal</div>
<svg style="position:absolute;left:32.00px;top:321.10px" width="16.00" height="15.80" viewBox="0 0 512 512" preserveAspectRatio="none"><path fill="#a3a9bd" d="M505.04 442.66l-99.71-99.69c-4.5-4.5-10.6-7-17-7h-16.3c27.6-35.300 44-79.690 44-127.990C416.030 93.090 322.920 0 208.020 0S0 93.090 0 207.980s93.110 207.980 208.020 207.980c48.300 0 92.710-16.400 128.010-44v16.300c0 6.400 2.500 12.500 7 17l99.710 99.690c9.400 9.400 24.600 9.400 33.900 0l28.300-28.300c9.400-9.400 9.400-24.590.100-33.990zm-297.020-90.700c-79.540 0-144-64.340-144-143.980 0-79.530 64.350-143.980 144-143.980 79.540 0 144 64.340 144 143.980 0 79.530-64.350 143.980-144 143.980zm.020-239.960c-40.780 0-73.840 33.050-73.840 73.830 0 32.960 48.260 93.050 66.750 114.860a9.240 9.240 0 0 0 14.180 0c18.490-21.810 66.750-81.890 66.750-114.860 0-40.780-33.060-73.830-73.840-73.830zm0 96c-13.260 0-24-10.750-24-24 0-13.260 10.750-24 24-24s24 10.740 24 24c0 13.250-10.750 24-24 24z"/></svg>
<div style="position:absolute;left:60.40px;top:320.00px;font-size:16.00px;line-height:19px;color:#a3a9bd;white-space:pre;font-family:'Liberation Sans',sans-serif;transform:scaleX(0.9227);transform-origin:0 0;">Privacy</div>
<svg style="position:absolute;left:32.80px;top:369.80px" width="14.4" height="14.4" viewBox="0 0 14 14"><path fill-rule="evenodd" fill="#a3a9bd" d="M7 0A7 7 0 1 1 7 14H0.4Q0 14 0 13.600V7A7 7 0 0 1 7 0ZM7 3A4 4 0 0 1 11 7A4 4 0 0 1 7 11H3.700Q3 11 3 10.300V7A4 4 0 0 1 7 3Z"/></svg>
<div style="position:absolute;left:60.40px;top:368.00px;font-size:16.00px;line-height:19px;color:#a3a9bd;white-space:pre;font-family:'Liberation Sans',sans-serif;transform:scaleX(0.8404);transform-origin:0 0;">TOS</div>
<div style="position:absolute;left:8px;top:425px;width:304px;height:104px;border-radius:6px;background:#dc3f45;box-shadow:inset 0 0 0 1px rgba(255,120,120,0.10),0 0 0 1px rgba(22,30,56,0.85)"></div>
<div style="position:absolute;left:20.00px;top:440.00px;font-size:16.00px;line-height:19px;color:#ffffff;white-space:pre;font-family:'Liberation Sans',sans-serif;transform:scaleX(0.9921);transform-origin:0 0;">anger</div>
<div style="position:absolute;left:20.40px;top:465.00px;font-size:18.00px;line-height:22px;color:#ffffff;white-space:pre;font-family:'Liberation Sans',sans-serif;font-weight:700;-webkit-text-stroke:0.35px #ffffff;transform:scaleX(0.9603);transform-origin:0 0;">16 %</div>
<div style="position:absolute;left:20.00px;top:502.00px;font-size:12.00px;line-height:16px;color:#fdf3f3;white-space:pre;font-family:'Liberation Sans',sans-serif;transform:scaleX(0.9378);transform-origin:0 0;">Anger is a strong feeling of displeasure and hostility.</div>
<svg style="position:absolute;left:242.80px;top:441.60px" width="48.80" height="48.80" viewBox="-1.0427 -1.0427 2.0855 2.0855"><circle r="1" fill="#f8312f"/><circle cx="-0.400" cy="0.060" r="0.320" fill="#fff"/><circle cx="0.400" cy="0.060" r="0.320" fill="#fff"/><circle cx="-0.290" cy="0.080" r="0.136" fill="#402a32"/><circle cx="0.270" cy="0.080" r="0.136" fill="#402a32"/><path d="M-0.44 -0.43Q-0.38 -0.22 -0.14 -0.20" fill="none" stroke="#402a32" stroke-width="0.085" stroke-linecap="round" stroke-linejoin="round"/><path d="M0.41 -0.43Q0.35 -0.22 0.11 -0.18" fill="none" stroke="#402a32" stroke-width="0.085" stroke-linecap="round" stroke-linejoin="round"/><path d="M-0.31 0.67Q-0.01 0.34 0.30 0.67" fill="none" stroke="#402a32" stroke-width="0.100" stroke-linecap="round" stroke-linejoin="round"/></svg>
<div style="position:absolute;left:8px;top:545px;width:304px;height:104px;border-radius:6px;background:#23b35e;box-shadow:inset 0 0 0 1px rgba(255,120,120,0.10),0 0 0 1px rgba(22,30,56,0.85)"></div>
<div style="position:absolute;left:20.00px;top:560.00px;font-size:16.00px;line-height:19px;color:#ffffff;white-space:pre;font-family:'Liberation Sans',sans-serif;transform:scaleX(1.0040);transform-origin:0 0;">disgust</div>
<div style="position:absolute;left:20.40px;top:585.00px;font-size:18.00px;line-height:22px;color:#ffffff;white-space:pre;font-family:'Liberation Sans',sans-serif;font-weight:700;-webkit-text-stroke:0.35px #ffffff;transform:scaleX(0.9725);transform-origin:0 0;">35 %</div>
<div style="position:absolute;left:20.00px;top:622.00px;font-size:12.00px;line-height:16px;color:#fdf3f3;white-space:pre;font-family:'Liberation Sans',sans-serif;transform:scaleX(0.9230);transform-origin:0 0;">Disgust is a feeling of intense dislike.</div>
<svg style="position:absolute;left:242.80px;top:561.60px" width="48.80" height="48.80" viewBox="-1.0427 -1.0427 2.0855 2.0855"><circle r="1" fill="#00d26a"/><circle cx="-0.400" cy="-0.117" r="0.320" fill="#fff"/><circle cx="0.400" cy="-0.117" r="0.320" fill="#fff"/><circle cx="-0.300" cy="-0.078" r="0.136" fill="#402a32"/><circle cx="0.270" cy="-0.078" r="0.136" fill="#402a32"/><path d="M-0.72 -0.53Q-0.47 -0.53 -0.40 -0.77" fill="none" stroke="#402a32" stroke-width="0.050" stroke-linecap="round" stroke-linejoin="round"/><path d="M0.71 -0.53Q0.46 -0.53 0.38 -0.77" fill="none" stroke="#402a32" stroke-width="0.050" stroke-linecap="round" stroke-linejoin="round"/><path d="M-0.456 0.223Q-0.20 0.223 -0.22 0.447Q-0.20 0.65 -0.456 0.65" fill="none" stroke="#402a32" stroke-width="0.100" stroke-linecap="round" stroke-linejoin="round"/><path d="M0.437 0.223Q0.18 0.223 0.20 0.447Q0.18 0.65 0.437 0.65" fill="none" stroke="#402a32" stroke-width="0.100" stroke-linecap="round" stroke-linejoin="round"/><path d="M-0.22 0.447L0.20 0.447" fill="none" stroke="#402a32" stroke-width="0.100" stroke-linecap="round" stroke-linejoin="round"/></svg>
<div style="position:absolute;left:8px;top:665px;width:304px;height:120px;border-radius:6px;background:#9b51e0;box-shadow:inset 0 0 0 1px rgba(255,120,120,0.10),0 0 0 1px rgba(22,30,56,0.85)"></div>
<div style="position:absolute;left:20.00px;top:680.00px;font-size:16.00px;line-height:19px;color:#ffffff;white-space:pre;font-family:'Liberation Sans',sans-serif;transform:scaleX(0.9902);transform-origin:0 0;">fear</div>
<div style="position:absolute;left:20.40px;top:705.00px;font-size:18.00px;line-height:22px;color:#ffffff;white-space:pre;font-family:'Liberation Sans',sans-serif;font-weight:700;-webkit-text-stroke:0.35px #ffffff;transform:scaleX(0.9777);transform-origin:0 0;">7.6 %</div>
<div style="position:absolute;left:20.00px;top:742.00px;font-size:12.00px;line-height:16px;color:#fdf3f3;white-space:pre;font-family:'Liberation Sans',sans-serif;transform:scaleX(0.9254);transform-origin:0 0;">Fear is induced by a perceived threat, which causes a</div>
<div style="position:absolute;left:20.00px;top:758.00px;font-size:12.00px;line-height:16px;color:#fdf3f3;white-space:pre;font-family:'Liberation Sans',sans-serif;transform:scaleX(0.9320);transform-origin:0 0;">change in behavior.</div>
<svg style="position:absolute;left:242.80px;top:681.60px" width="48.80" height="48.80" viewBox="-1.0427 -1.0427 2.0855 2.0855"><defs><clipPath id="fc10"><circle r="1"/></clipPath></defs><circle r="1" fill="#ffb02e"/><rect x="-1" y="-1" width="2" height="0.864" fill="#5092ff" clip-path="url(#fc10)"/><circle cx="-0.400" cy="-0.175" r="0.320" fill="#fff"/><circle cx="0.400" cy="-0.175" r="0.320" fill="#fff"/><circle cx="-0.300" cy="-0.146" r="0.136" fill="#402a32"/><circle cx="0.270" cy="-0.146" r="0.136" fill="#402a32"/><path d="M-0.72 -0.53Q-0.47 -0.53 -0.40 -0.77" fill="none" stroke="#402a32" stroke-width="0.050" stroke-linecap="round" stroke-linejoin="round"/><path d="M0.71 -0.53Q0.46 -0.53 0.38 -0.77" fill="none" stroke="#402a32" stroke-width="0.050" stroke-linecap="round" stroke-linejoin="round"/><path d="M-0.485 0.66C-0.485 0.36 -0.28 0.214 0 0.214C0.27 0.214 0.476 0.36 0.476 0.66C0.476 0.70 0.45 0.718 0.41 0.718L-0.42 0.718C-0.46 0.718 -0.485 0.70 -0.485 0.66Z" fill="#bb1d80"/></svg>
<div style="position:absolute;left:8px;top:801px;width:304px;height:120px;border-radius:6px;background:#d4a50f;box-shadow:inset 0 0 0 1px rgba(255,120,120,0.10),0 0 0 1px rgba(22,30,56,0.85)"></div>
<div style="position:absolute;left:20.00px;top:816.00px;font-size:16.00px;line-height:19px;color:#ffffff;white-space:pre;font-family:'Liberation Sans',sans-serif;transform:scaleX(1.0047);transform-origin:0 0;">happy</div>
<div style="position:absolute;left:20.40px;top:841.00px;font-size:18.00px;line-height:22px;color:#ffffff;white-space:pre;font-family:'Liberation Sans',sans-serif;font-weight:700;-webkit-text-stroke:0.35px #ffffff;transform:scaleX(0.9725);transform-origin:0 0;">90 %</div>
<div style="position:absolute;left:20.00px;top:878.00px;font-size:12.00px;line-height:16px;color:#fdf3f3;white-space:pre;font-family:'Liberation Sans',sans-serif;transform:scaleX(0.9418);transform-origin:0 0;">Happiness is a feeling or state of well-being and</div>
<div style="position:absolute;left:20.00px;top:894.00px;font-size:12.00px;line-height:16px;color:#fdf3f3;white-space:pre;font-family:'Liberation Sans',sans-serif;transform:scaleX(0.9600);transform-origin:0 0;">contentment.</div>
<svg style="position:absolute;left:242.80px;top:817.60px" width="48.80" height="48.80" viewBox="-1.0427 -1.0427 2.0855 2.0855"><defs><clipPath id="hc11"><rect x="-1" y="-1" width="2" height="0.864"/></clipPath></defs><circle r="1" fill="#ffb02e"/><g clip-path="url(#hc11)"><ellipse cx="-0.40" cy="-0.43" rx="0.32" ry="0.36" fill="#fff"/><ellipse cx="0.40" cy="-0.43" rx="0.32" ry="0.36" fill="#fff"/><ellipse cx="-0.375" cy="-0.390" rx="0.195" ry="0.243" fill="#402a32"/><ellipse cx="0.350" cy="-0.390" rx="0.195" ry="0.243" fill="#402a32"/></g><path d="M-0.65 0.0L0.63 0.0C0.63 0.40 0.33 0.64 -0.01 0.64C-0.35 0.64 -0.65 0.40 -0.65 0.0Z" fill="#bb1d80"/><path d="M-0.60 0.01L0.58 0.01L0.555 0.09Q0.54 0.117 0.50 0.117L-0.52 0.117Q-0.56 0.117 -0.575 0.09Z" fill="#fff"/></svg>
<div style="position:absolute;left:8px;top:937px;width:304px;height:120px;border-radius:6px;background:#666b78;box-shadow:inset 0 0 0 1px rgba(255,120,120,0.10),0 0 0 1px rgba(22,30,56,0.85)"></div>
<div style="position:absolute;left:20.00px;top:952.00px;font-size:16.00px;line-height:19px;color:#ffffff;white-space:pre;font-family:'Liberation Sans',sans-serif;transform:scaleX(1.0057);transform-origin:0 0;">neutral</div>
<div style="position:absolute;left:20.40px;top:977.00px;font-size:18.00px;line-height:22px;color:#ffffff;white-space:pre;font-family:'Liberation Sans',sans-serif;font-weight:700;-webkit-text-stroke:0.35px #ffffff;transform:scaleX(0.9774);transform-origin:0 0;">50 %</div>
<div style="position:absolute;left:20.00px;top:1014.00px;font-size:12.00px;line-height:16px;color:#fdf3f3;white-space:pre;font-family:'Liberation Sans',sans-serif;transform:scaleX(0.9507);transform-origin:0 0;">Neutral is a state of not feeling or showing much</div>
<div style="position:absolute;left:20.00px;top:1030.00px;font-size:12.00px;line-height:16px;color:#fdf3f3;white-space:pre;font-family:'Liberation Sans',sans-serif;transform:scaleX(0.9560);transform-origin:0 0;">emotion.</div>
<svg style="position:absolute;left:242.80px;top:953.60px" width="48.80" height="48.80" viewBox="-1.0427 -1.0427 2.0855 2.0855"><circle r="1" fill="#ffb02e"/><circle cx="-0.400" cy="-0.280" r="0.310" fill="#fff"/><circle cx="0.400" cy="-0.280" r="0.310" fill="#fff"/><circle cx="-0.375" cy="-0.280" r="0.205" fill="#402a32"/><circle cx="0.350" cy="-0.280" r="0.205" fill="#402a32"/><path d="M-0.385 0.295L0.37 0.295" fill="none" stroke="#402a32" stroke-width="0.090" stroke-linecap="round" stroke-linejoin="round"/></svg>
<div style="position:absolute;left:8px;top:1073px;width:304px;height:104px;border-radius:6px;background:#3b7be3;box-shadow:inset 0 0 0 1px rgba(255,120,120,0.10),0 0 0 1px rgba(22,30,56,0.85)"></div>
<div style="position:absolute;left:20.00px;top:1088.00px;font-size:16.00px;line-height:19px;color:#ffffff;white-space:pre;font-family:'Liberation Sans',sans-serif;transform:scaleX(0.9420);transform-origin:0 0;">sad</div>
<div style="position:absolute;left:20.40px;top:1113.00px;font-size:18.00px;line-height:22px;color:#ffffff;white-space:pre;font-family:'Liberation Sans',sans-serif;font-weight:700;-webkit-text-stroke:0.35px #ffffff;transform:scaleX(0.9774);transform-origin:0 0;">25 %</div>
<div style="position:absolute;left:20.00px;top:1150.00px;font-size:12.00px;line-height:16px;color:#fdf3f3;white-space:pre;font-family:'Liberation Sans',sans-serif;transform:scaleX(0.9190);transform-origin:0 0;">Sadness is a mental state of being sad.</div>
<svg style="position:absolute;left:242.80px;top:1089.60px" width="48.80" height="48.80" viewBox="-1.0427 -1.0427 2.0855 2.0855"><circle r="1" fill="#ffb02e"/><circle cx="-0.400" cy="-0.049" r="0.310" fill="#fff"/><circle cx="0.400" cy="-0.049" r="0.310" fill="#fff"/><circle cx="-0.375" cy="-0.058" r="0.205" fill="#402a32"/><circle cx="0.350" cy="-0.058" r="0.205" fill="#402a32"/><path d="M-0.71 -0.38Q-0.62 -0.57 -0.40 -0.61" fill="none" stroke="#402a32" stroke-width="0.060" stroke-linecap="round" stroke-linejoin="round"/><path d="M0.70 -0.38Q0.61 -0.57 0.38 -0.61" fill="none" stroke="#402a32" stroke-width="0.060" stroke-linecap="round" stroke-linejoin="round"/><rect x="-0.728" y="0.223" width="0.281" height="0.495" rx="0.14" fill="#3f5fff"/><path d="M-0.25 0.515Q-0.02 0.31 0.22 0.515" fill="none" stroke="#402a32" stroke-width="0.100" stroke-linecap="round" stroke-linejoin="round"/></svg>
<div style="position:absolute;left:8px;top:1193px;width:304px;height:104px;border-radius:6px;background:#d9448c;box-shadow:inset 0 0 0 1px rgba(255,120,120,0.10),0 0 0 1px rgba(22,30,56,0.85)"></div>
<div style="position:absolute;left:20.00px;top:1208.00px;font-size:16.00px;line-height:19px;color:#ffffff;white-space:pre;font-family:'Liberation Sans',sans-serif;transform:scaleX(0.9665);transform-origin:0 0;">surprise</div>
<div style="position:absolute;left:20.40px;top:1233.00px;font-size:18.00px;line-height:22px;color:#ffffff;white-space:pre;font-family:'Liberation Sans',sans-serif;font-weight:700;-webkit-text-stroke:0.35px #ffffff;transform:scaleX(0.9608);transform-origin:0 0;">5 %</div>
<div style="position:absolute;left:20.00px;top:1270.00px;font-size:12.00px;line-height:16px;color:#fdf3f3;white-space:pre;font-family:'Liberation Sans',sans-serif;transform:scaleX(0.9314);transform-origin:0 0;">Surprise is a feeling of being shocked or surprised.</div>
<svg style="position:absolute;left:242.80px;top:1209.60px" width="48.80" height="48.80" viewBox="-1.0427 -1.0427 2.0855 2.0855"><circle r="1" fill="#ffb02e"/><circle cx="-0.400" cy="-0.310" r="0.320" fill="#fff"/><circle cx="0.400" cy="-0.310" r="0.320" fill="#fff"/><circle cx="-0.300" cy="-0.280" r="0.136" fill="#402a32"/><circle cx="0.270" cy="-0.280" r="0.136" fill="#402a32"/><ellipse cx="-0.014" cy="0.505" rx="0.29" ry="0.35" fill="#bb1d80"/></svg>
</div></div>
<div id="sb"><div class="th"></div>
<svg style="position:absolute;left:0;top:0" width="17" height="17" viewBox="0 0 17 17"><path d="M4.500 11L8.500 7L12.500 11Z" fill="#fff"/></svg>
<svg style="position:absolute;left:0;top:1304px" width="17" height="17" viewBox="0 0 17 17"><path d="M4.500 6L8.500 10L12.500 6Z" fill="#fff"/></svg>
</div>
<svg style="position:absolute;left:2011.4px;top:979.4px" width="15" height="22" viewBox="0 0 15 22"><path d="M1.500 1.500V16.900L5.300 13.800L8.300 19.100L10.300 18.100L7.600 12.900L12.300 12.300Z" fill="#fff" stroke="#05051a" stroke-width="1.100" stroke-linejoin="round"/></svg>
</div>
</body></html>
